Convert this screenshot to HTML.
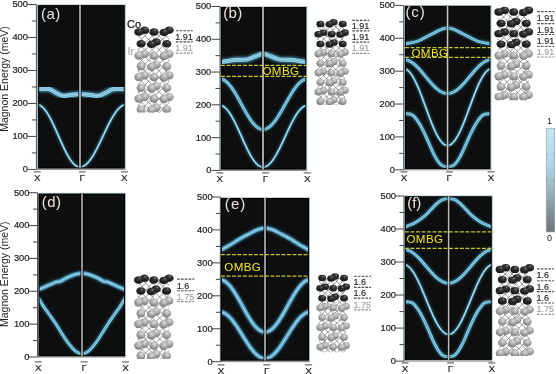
<!DOCTYPE html><html><head><meta charset="utf-8"><style>html,body{margin:0;padding:0;background:#fff;width:556px;height:374px;overflow:hidden}text{font-family:"Liberation Sans",sans-serif}</style></head><body><svg width="556" height="374" viewBox="0 0 556 374" style="display:block;will-change:transform">
<defs><filter id="gl" x="-20%" y="-20%" width="140%" height="140%"><feGaussianBlur stdDeviation="1.0"/></filter><filter id="gs" x="-20%" y="-20%" width="140%" height="140%"><feGaussianBlur stdDeviation="0.35"/></filter><filter id="bl" x="-20%" y="-20%" width="140%" height="140%"><feGaussianBlur stdDeviation="0.35"/></filter><radialGradient id="co" cx="0.6" cy="0.3" r="0.75" fx="0.62" fy="0.28"><stop offset="0" stop-color="#8c8c8c"/><stop offset="0.2" stop-color="#3a3a3a"/><stop offset="0.7" stop-color="#1e1e1e"/><stop offset="1" stop-color="#151515"/></radialGradient><radialGradient id="ir" cx="0.55" cy="0.32" r="0.75" fx="0.58" fy="0.3"><stop offset="0" stop-color="#dcdcdc"/><stop offset="0.45" stop-color="#ababab"/><stop offset="1" stop-color="#6e6e6e"/></radialGradient><linearGradient id="re" x1="0" y1="0" x2="1" y2="0"><stop offset="0" stop-color="#6f8a96"/><stop offset="1" stop-color="#e8f2f5" stop-opacity="0.3"/></linearGradient><linearGradient id="te" x1="0" y1="1" x2="0" y2="0"><stop offset="0" stop-color="#8aa6b2"/><stop offset="1" stop-color="#e8f2f5" stop-opacity="0.3"/></linearGradient><linearGradient id="cb" x1="0" y1="0" x2="0" y2="1"><stop offset="0" stop-color="#c4e4f0"/><stop offset="0.35" stop-color="#b2d6e4"/><stop offset="0.6" stop-color="#9ab4be"/><stop offset="1" stop-color="#6c7478"/></linearGradient>
<clipPath id="cla"><rect x="38.2" y="5.1" width="86.60" height="163.30"/></clipPath>
<clipPath id="clb"><rect x="221.0" y="7.0" width="85.30" height="162.50"/></clipPath>
<clipPath id="clc"><rect x="405.0" y="5.8" width="85.50" height="163.10"/></clipPath>
<clipPath id="cld"><rect x="38.6" y="193.5" width="86.40" height="162.80"/></clipPath>
<clipPath id="cle"><rect x="221.0" y="198.0" width="88.00" height="162.60"/></clipPath>
<clipPath id="clf"><rect x="405.0" y="196.2" width="86.80" height="163.60"/></clipPath>
</defs>
<rect width="556" height="374" fill="#fff"/>
<rect x="38.2" y="5.1" width="86.60" height="163.30" fill="#0e0e0e"/>
<rect x="37.10" y="5.1" width="1.2" height="163.30" fill="#8db2c2"/>
<rect x="37.10" y="168.10" width="87.70" height="1.0" fill="#7f9aa6"/>
<g clip-path="url(#cla)" fill="none" stroke-linejoin="round" stroke-linecap="round"><path d="M38.20,89.00 L38.83,89.00 L39.70,88.99 L40.73,88.98 L41.84,88.97 L42.95,88.98 L44.00,89.00 L44.99,89.01 L45.99,88.99 L46.99,88.99 L47.99,89.03 L49.00,89.16 L50.00,89.40 L50.99,89.80 L51.96,90.33 L52.94,90.94 L53.93,91.59 L54.94,92.22 L56.00,92.80 L57.11,93.37 L58.26,93.97 L59.44,94.56 L60.63,95.10 L61.82,95.52 L63.00,95.80 L64.13,95.89 L65.22,95.82 L66.31,95.65 L67.44,95.42 L68.66,95.19 L70.00,95.00 L71.61,94.83 L73.48,94.64 L75.44,94.45 L77.30,94.27 L78.88,94.11 L80.00,94.00 L80.00,94.00 L81.20,94.11 L82.90,94.27 L84.89,94.45 L86.99,94.64 L88.99,94.83 L90.72,95.00 L92.15,95.19 L93.46,95.42 L94.67,95.65 L95.84,95.82 L97.01,95.89 L98.22,95.80 L99.48,95.52 L100.76,95.10 L102.04,94.56 L103.30,93.97 L104.53,93.37 L105.72,92.80 L106.86,92.22 L107.95,91.59 L109.00,90.94 L110.05,90.33 L111.09,89.80 L112.15,89.40 L113.23,89.16 L114.30,89.03 L115.38,88.99 L116.46,88.99 L117.52,89.01 L118.58,89.00 L119.70,88.98 L120.90,88.97 L122.09,88.98 L123.20,88.99 L124.13,89.00 L124.80,89.00" stroke="#4aa0c4" stroke-width="7.0" opacity="0.6" filter="url(#gl)"/><path d="M38.20,89.00 L38.83,89.00 L39.70,88.99 L40.73,88.98 L41.84,88.97 L42.95,88.98 L44.00,89.00 L44.99,89.01 L45.99,88.99 L46.99,88.99 L47.99,89.03 L49.00,89.16 L50.00,89.40 L50.99,89.80 L51.96,90.33 L52.94,90.94 L53.93,91.59 L54.94,92.22 L56.00,92.80 L57.11,93.37 L58.26,93.97 L59.44,94.56 L60.63,95.10 L61.82,95.52 L63.00,95.80 L64.13,95.89 L65.22,95.82 L66.31,95.65 L67.44,95.42 L68.66,95.19 L70.00,95.00 L71.61,94.83 L73.48,94.64 L75.44,94.45 L77.30,94.27 L78.88,94.11 L80.00,94.00 L80.00,94.00 L81.20,94.11 L82.90,94.27 L84.89,94.45 L86.99,94.64 L88.99,94.83 L90.72,95.00 L92.15,95.19 L93.46,95.42 L94.67,95.65 L95.84,95.82 L97.01,95.89 L98.22,95.80 L99.48,95.52 L100.76,95.10 L102.04,94.56 L103.30,93.97 L104.53,93.37 L105.72,92.80 L106.86,92.22 L107.95,91.59 L109.00,90.94 L110.05,90.33 L111.09,89.80 L112.15,89.40 L113.23,89.16 L114.30,89.03 L115.38,88.99 L116.46,88.99 L117.52,89.01 L118.58,89.00 L119.70,88.98 L120.90,88.97 L122.09,88.98 L123.20,88.99 L124.13,89.00 L124.80,89.00" stroke="#8ad0ea" stroke-width="4.2" filter="url(#gs)"/><path d="M38.20,89.00 L38.83,89.00 L39.70,88.99 L40.73,88.98 L41.84,88.97 L42.95,88.98 L44.00,89.00 L44.99,89.01 L45.99,88.99 L46.99,88.99 L47.99,89.03 L49.00,89.16 L50.00,89.40 L50.99,89.80 L51.96,90.33 L52.94,90.94 L53.93,91.59 L54.94,92.22 L56.00,92.80 L57.11,93.37 L58.26,93.97 L59.44,94.56 L60.63,95.10 L61.82,95.52 L63.00,95.80 L64.13,95.89 L65.22,95.82 L66.31,95.65 L67.44,95.42 L68.66,95.19 L70.00,95.00 L71.61,94.83 L73.48,94.64 L75.44,94.45 L77.30,94.27 L78.88,94.11 L80.00,94.00 L80.00,94.00 L81.20,94.11 L82.90,94.27 L84.89,94.45 L86.99,94.64 L88.99,94.83 L90.72,95.00 L92.15,95.19 L93.46,95.42 L94.67,95.65 L95.84,95.82 L97.01,95.89 L98.22,95.80 L99.48,95.52 L100.76,95.10 L102.04,94.56 L103.30,93.97 L104.53,93.37 L105.72,92.80 L106.86,92.22 L107.95,91.59 L109.00,90.94 L110.05,90.33 L111.09,89.80 L112.15,89.40 L113.23,89.16 L114.30,89.03 L115.38,88.99 L116.46,88.99 L117.52,89.01 L118.58,89.00 L119.70,88.98 L120.90,88.97 L122.09,88.98 L123.20,88.99 L124.13,89.00 L124.80,89.00" stroke="#4a98bb" stroke-width="2.0" stroke-dasharray="1.3 1.1" opacity="0.8"/><path d="M38.20,89.00 L38.83,89.00 L39.70,88.99 L40.73,88.98 L41.84,88.97 L42.95,88.98 L44.00,89.00 L44.99,89.01 L45.99,88.99 L46.99,88.99 L47.99,89.03 L49.00,89.16 L50.00,89.40 L50.99,89.80 L51.96,90.33 L52.94,90.94 L53.93,91.59 L54.94,92.22 L56.00,92.80 L57.11,93.37 L58.26,93.97 L59.44,94.56 L60.63,95.10 L61.82,95.52 L63.00,95.80 L64.13,95.89 L65.22,95.82 L66.31,95.65 L67.44,95.42 L68.66,95.19 L70.00,95.00 L71.61,94.83 L73.48,94.64 L75.44,94.45 L77.30,94.27 L78.88,94.11 L80.00,94.00 L80.00,94.00 L81.20,94.11 L82.90,94.27 L84.89,94.45 L86.99,94.64 L88.99,94.83 L90.72,95.00 L92.15,95.19 L93.46,95.42 L94.67,95.65 L95.84,95.82 L97.01,95.89 L98.22,95.80 L99.48,95.52 L100.76,95.10 L102.04,94.56 L103.30,93.97 L104.53,93.37 L105.72,92.80 L106.86,92.22 L107.95,91.59 L109.00,90.94 L110.05,90.33 L111.09,89.80 L112.15,89.40 L113.23,89.16 L114.30,89.03 L115.38,88.99 L116.46,88.99 L117.52,89.01 L118.58,89.00 L119.70,88.98 L120.90,88.97 L122.09,88.98 L123.20,88.99 L124.13,89.00 L124.80,89.00" stroke="#e4f7fc" stroke-width="0.8" opacity="0.9"/></g>
<g clip-path="url(#cla)" fill="none" stroke-linejoin="round" stroke-linecap="round"><path d="M38.20,104.76 L39.25,105.07 L40.29,105.57 L41.34,106.23 L42.38,107.07 L43.43,108.08 L44.47,109.25 L45.52,110.57 L46.56,112.04 L47.61,113.65 L48.65,115.38 L49.70,117.24 L50.74,119.20 L51.79,121.26 L52.83,123.41 L53.88,125.62 L54.92,127.90 L55.97,130.22 L57.01,132.57 L58.05,134.95 L59.10,137.33 L60.15,139.70 L61.19,142.05 L62.23,144.36 L63.28,146.62 L64.33,148.82 L65.37,150.95 L66.42,152.98 L67.46,154.92 L68.50,156.75 L69.55,158.46 L70.59,160.03 L71.64,161.47 L72.69,162.75 L73.73,163.88 L74.78,164.85 L75.82,165.65 L76.87,166.28 L77.91,166.73 L78.95,167.00 L80.00,167.09 L80.00,167.09 L81.12,167.00 L82.24,166.73 L83.36,166.28 L84.48,165.65 L85.60,164.85 L86.72,163.88 L87.84,162.75 L88.96,161.47 L90.08,160.03 L91.20,158.46 L92.32,156.75 L93.44,154.92 L94.56,152.98 L95.68,150.95 L96.80,148.82 L97.92,146.62 L99.04,144.36 L100.16,142.05 L101.28,139.70 L102.40,137.33 L103.52,134.95 L104.64,132.57 L105.76,130.22 L106.88,127.90 L108.00,125.62 L109.12,123.41 L110.24,121.26 L111.36,119.20 L112.48,117.24 L113.60,115.38 L114.72,113.65 L115.84,112.04 L116.96,110.57 L118.08,109.25 L119.20,108.08 L120.32,107.07 L121.44,106.23 L122.56,105.57 L123.68,105.07 L124.80,104.76" stroke="#3a8db0" stroke-width="3.4" opacity="0.6" filter="url(#gl)"/><path d="M38.20,104.76 L39.25,105.07 L40.29,105.57 L41.34,106.23 L42.38,107.07 L43.43,108.08 L44.47,109.25 L45.52,110.57 L46.56,112.04 L47.61,113.65 L48.65,115.38 L49.70,117.24 L50.74,119.20 L51.79,121.26 L52.83,123.41 L53.88,125.62 L54.92,127.90 L55.97,130.22 L57.01,132.57 L58.05,134.95 L59.10,137.33 L60.15,139.70 L61.19,142.05 L62.23,144.36 L63.28,146.62 L64.33,148.82 L65.37,150.95 L66.42,152.98 L67.46,154.92 L68.50,156.75 L69.55,158.46 L70.59,160.03 L71.64,161.47 L72.69,162.75 L73.73,163.88 L74.78,164.85 L75.82,165.65 L76.87,166.28 L77.91,166.73 L78.95,167.00 L80.00,167.09 L80.00,167.09 L81.12,167.00 L82.24,166.73 L83.36,166.28 L84.48,165.65 L85.60,164.85 L86.72,163.88 L87.84,162.75 L88.96,161.47 L90.08,160.03 L91.20,158.46 L92.32,156.75 L93.44,154.92 L94.56,152.98 L95.68,150.95 L96.80,148.82 L97.92,146.62 L99.04,144.36 L100.16,142.05 L101.28,139.70 L102.40,137.33 L103.52,134.95 L104.64,132.57 L105.76,130.22 L106.88,127.90 L108.00,125.62 L109.12,123.41 L110.24,121.26 L111.36,119.20 L112.48,117.24 L113.60,115.38 L114.72,113.65 L115.84,112.04 L116.96,110.57 L118.08,109.25 L119.20,108.08 L120.32,107.07 L121.44,106.23 L122.56,105.57 L123.68,105.07 L124.80,104.76" stroke="#8ed2ea" stroke-width="1.7" filter="url(#gs)"/><path d="M38.20,104.76 L39.25,105.07 L40.29,105.57 L41.34,106.23 L42.38,107.07 L43.43,108.08 L44.47,109.25 L45.52,110.57 L46.56,112.04 L47.61,113.65 L48.65,115.38 L49.70,117.24 L50.74,119.20 L51.79,121.26 L52.83,123.41 L53.88,125.62 L54.92,127.90 L55.97,130.22 L57.01,132.57 L58.05,134.95 L59.10,137.33 L60.15,139.70 L61.19,142.05 L62.23,144.36 L63.28,146.62 L64.33,148.82 L65.37,150.95 L66.42,152.98 L67.46,154.92 L68.50,156.75 L69.55,158.46 L70.59,160.03 L71.64,161.47 L72.69,162.75 L73.73,163.88 L74.78,164.85 L75.82,165.65 L76.87,166.28 L77.91,166.73 L78.95,167.00 L80.00,167.09 L80.00,167.09 L81.12,167.00 L82.24,166.73 L83.36,166.28 L84.48,165.65 L85.60,164.85 L86.72,163.88 L87.84,162.75 L88.96,161.47 L90.08,160.03 L91.20,158.46 L92.32,156.75 L93.44,154.92 L94.56,152.98 L95.68,150.95 L96.80,148.82 L97.92,146.62 L99.04,144.36 L100.16,142.05 L101.28,139.70 L102.40,137.33 L103.52,134.95 L104.64,132.57 L105.76,130.22 L106.88,127.90 L108.00,125.62 L109.12,123.41 L110.24,121.26 L111.36,119.20 L112.48,117.24 L113.60,115.38 L114.72,113.65 L115.84,112.04 L116.96,110.57 L118.08,109.25 L119.20,108.08 L120.32,107.07 L121.44,106.23 L122.56,105.57 L123.68,105.07 L124.80,104.76" stroke="#c8eef9" stroke-width="0.6" opacity="0.7"/></g>
<rect x="38.70" y="5.60" width="85.60" height="162.30" fill="none" stroke="#000" stroke-width="1"/>
<rect x="124.80" y="5.10" width="1.6" height="163.30" fill="url(#re)"/>
<rect x="37.20" y="3.80" width="88.80" height="1.3" fill="url(#te)"/>
<rect x="78.10" y="5.1" width="3.80" height="163.30" fill="#000" opacity="0.55"/>
<rect x="79.00" y="5.1" width="2.00" height="163.30" fill="#9c9a98"/>
<text x="40.9" y="18.8" font-family='"Liberation Sans", sans-serif' font-size="15" letter-spacing="0.5" fill="#ece4e0">(a)</text>
<line x1="36.4" y1="4.5" x2="36.4" y2="169.4" stroke="#555" stroke-width="1"/>
<line x1="36.4" y1="169.4" x2="125.80" y2="169.4" stroke="#888" stroke-width="1"/>
<line x1="27.90" y1="169.40" x2="36.4" y2="169.40" stroke="#444" stroke-width="1"/>
<text x="27.9" y="172.30" text-anchor="end" font-family='"Liberation Sans", sans-serif' font-size="9.3" fill="#1a1a1a" stroke="#1a1a1a" stroke-width="0.2">0</text>
<line x1="31.90" y1="152.91" x2="36.4" y2="152.91" stroke="#444" stroke-width="1"/>
<line x1="27.90" y1="136.42" x2="36.4" y2="136.42" stroke="#444" stroke-width="1"/>
<text x="27.9" y="139.32" text-anchor="end" font-family='"Liberation Sans", sans-serif' font-size="9.3" fill="#1a1a1a" stroke="#1a1a1a" stroke-width="0.2">100</text>
<line x1="31.90" y1="119.93" x2="36.4" y2="119.93" stroke="#444" stroke-width="1"/>
<line x1="27.90" y1="103.44" x2="36.4" y2="103.44" stroke="#444" stroke-width="1"/>
<text x="27.9" y="106.34" text-anchor="end" font-family='"Liberation Sans", sans-serif' font-size="9.3" fill="#1a1a1a" stroke="#1a1a1a" stroke-width="0.2">200</text>
<line x1="31.90" y1="86.95" x2="36.4" y2="86.95" stroke="#444" stroke-width="1"/>
<line x1="27.90" y1="70.46" x2="36.4" y2="70.46" stroke="#444" stroke-width="1"/>
<text x="27.9" y="73.36" text-anchor="end" font-family='"Liberation Sans", sans-serif' font-size="9.3" fill="#1a1a1a" stroke="#1a1a1a" stroke-width="0.2">300</text>
<line x1="31.90" y1="53.97" x2="36.4" y2="53.97" stroke="#444" stroke-width="1"/>
<line x1="27.90" y1="37.48" x2="36.4" y2="37.48" stroke="#444" stroke-width="1"/>
<text x="27.9" y="40.38" text-anchor="end" font-family='"Liberation Sans", sans-serif' font-size="9.3" fill="#1a1a1a" stroke="#1a1a1a" stroke-width="0.2">400</text>
<line x1="31.90" y1="20.99" x2="36.4" y2="20.99" stroke="#444" stroke-width="1"/>
<line x1="27.90" y1="4.50" x2="36.4" y2="4.50" stroke="#444" stroke-width="1"/>
<text x="27.9" y="7.40" text-anchor="end" font-family='"Liberation Sans", sans-serif' font-size="9.3" fill="#1a1a1a" stroke="#1a1a1a" stroke-width="0.2">500</text>
<text x="37.30" y="181.00" text-anchor="middle" font-family='"Liberation Sans", sans-serif' font-size="9.9" fill="#1a1a1a" stroke="#1a1a1a" stroke-width="0.15">X</text>
<line x1="33.80" y1="171.90" x2="40.80" y2="171.90" stroke="#333" stroke-width="0.9"/>
<text x="82.30" y="181.00" text-anchor="middle" font-family='"Liberation Sans", sans-serif' font-size="9.9" fill="#1a1a1a" stroke="#1a1a1a" stroke-width="0.15">Γ</text>
<line x1="78.80" y1="171.90" x2="85.80" y2="171.90" stroke="#333" stroke-width="0.9"/>
<text x="124.40" y="181.00" text-anchor="middle" font-family='"Liberation Sans", sans-serif' font-size="9.9" fill="#1a1a1a" stroke="#1a1a1a" stroke-width="0.15">X</text>
<line x1="120.90" y1="171.90" x2="127.90" y2="171.90" stroke="#333" stroke-width="0.9"/>
<rect x="221.0" y="7.0" width="85.30" height="162.50" fill="#0e0e0e"/>
<rect x="219.90" y="7.0" width="1.2" height="162.50" fill="#8db2c2"/>
<rect x="219.90" y="169.20" width="86.40" height="1.0" fill="#7f9aa6"/>
<g clip-path="url(#clb)" fill="none" stroke-linejoin="round" stroke-linecap="round"><path d="M221.00,62.00 L221.77,61.89 L222.84,61.74 L224.11,61.56 L225.46,61.37 L226.78,61.18 L227.97,61.00 L228.94,60.83 L229.77,60.65 L230.58,60.48 L231.47,60.30 L232.55,60.14 L233.94,60.00 L235.75,59.90 L237.92,59.86 L240.28,59.82 L242.67,59.76 L244.93,59.63 L246.88,59.40 L248.49,59.05 L249.89,58.61 L251.16,58.11 L252.35,57.57 L253.56,57.02 L254.84,56.50 L256.28,55.96 L257.85,55.37 L259.42,54.77 L260.88,54.21 L262.11,53.74 L263.00,53.40 L263.00,53.40 L263.92,53.74 L265.19,54.21 L266.69,54.77 L268.31,55.37 L269.93,55.96 L271.41,56.50 L272.73,57.02 L273.98,57.57 L275.21,58.11 L276.51,58.61 L277.96,59.05 L279.62,59.40 L281.63,59.63 L283.95,59.76 L286.42,59.82 L288.86,59.86 L291.09,59.90 L292.96,60.00 L294.39,60.14 L295.51,60.30 L296.42,60.48 L297.26,60.65 L298.12,60.83 L299.12,61.00 L300.34,61.18 L301.70,61.37 L303.09,61.56 L304.40,61.74 L305.51,61.89 L306.30,62.00" stroke="#4aa0c4" stroke-width="7.0" opacity="0.6" filter="url(#gl)"/><path d="M221.00,62.00 L221.77,61.89 L222.84,61.74 L224.11,61.56 L225.46,61.37 L226.78,61.18 L227.97,61.00 L228.94,60.83 L229.77,60.65 L230.58,60.48 L231.47,60.30 L232.55,60.14 L233.94,60.00 L235.75,59.90 L237.92,59.86 L240.28,59.82 L242.67,59.76 L244.93,59.63 L246.88,59.40 L248.49,59.05 L249.89,58.61 L251.16,58.11 L252.35,57.57 L253.56,57.02 L254.84,56.50 L256.28,55.96 L257.85,55.37 L259.42,54.77 L260.88,54.21 L262.11,53.74 L263.00,53.40 L263.00,53.40 L263.92,53.74 L265.19,54.21 L266.69,54.77 L268.31,55.37 L269.93,55.96 L271.41,56.50 L272.73,57.02 L273.98,57.57 L275.21,58.11 L276.51,58.61 L277.96,59.05 L279.62,59.40 L281.63,59.63 L283.95,59.76 L286.42,59.82 L288.86,59.86 L291.09,59.90 L292.96,60.00 L294.39,60.14 L295.51,60.30 L296.42,60.48 L297.26,60.65 L298.12,60.83 L299.12,61.00 L300.34,61.18 L301.70,61.37 L303.09,61.56 L304.40,61.74 L305.51,61.89 L306.30,62.00" stroke="#8ad0ea" stroke-width="4.2" filter="url(#gs)"/><path d="M221.00,62.00 L221.77,61.89 L222.84,61.74 L224.11,61.56 L225.46,61.37 L226.78,61.18 L227.97,61.00 L228.94,60.83 L229.77,60.65 L230.58,60.48 L231.47,60.30 L232.55,60.14 L233.94,60.00 L235.75,59.90 L237.92,59.86 L240.28,59.82 L242.67,59.76 L244.93,59.63 L246.88,59.40 L248.49,59.05 L249.89,58.61 L251.16,58.11 L252.35,57.57 L253.56,57.02 L254.84,56.50 L256.28,55.96 L257.85,55.37 L259.42,54.77 L260.88,54.21 L262.11,53.74 L263.00,53.40 L263.00,53.40 L263.92,53.74 L265.19,54.21 L266.69,54.77 L268.31,55.37 L269.93,55.96 L271.41,56.50 L272.73,57.02 L273.98,57.57 L275.21,58.11 L276.51,58.61 L277.96,59.05 L279.62,59.40 L281.63,59.63 L283.95,59.76 L286.42,59.82 L288.86,59.86 L291.09,59.90 L292.96,60.00 L294.39,60.14 L295.51,60.30 L296.42,60.48 L297.26,60.65 L298.12,60.83 L299.12,61.00 L300.34,61.18 L301.70,61.37 L303.09,61.56 L304.40,61.74 L305.51,61.89 L306.30,62.00" stroke="#4a98bb" stroke-width="2.0" stroke-dasharray="1.3 1.1" opacity="0.8"/><path d="M221.00,62.00 L221.77,61.89 L222.84,61.74 L224.11,61.56 L225.46,61.37 L226.78,61.18 L227.97,61.00 L228.94,60.83 L229.77,60.65 L230.58,60.48 L231.47,60.30 L232.55,60.14 L233.94,60.00 L235.75,59.90 L237.92,59.86 L240.28,59.82 L242.67,59.76 L244.93,59.63 L246.88,59.40 L248.49,59.05 L249.89,58.61 L251.16,58.11 L252.35,57.57 L253.56,57.02 L254.84,56.50 L256.28,55.96 L257.85,55.37 L259.42,54.77 L260.88,54.21 L262.11,53.74 L263.00,53.40 L263.00,53.40 L263.92,53.74 L265.19,54.21 L266.69,54.77 L268.31,55.37 L269.93,55.96 L271.41,56.50 L272.73,57.02 L273.98,57.57 L275.21,58.11 L276.51,58.61 L277.96,59.05 L279.62,59.40 L281.63,59.63 L283.95,59.76 L286.42,59.82 L288.86,59.86 L291.09,59.90 L292.96,60.00 L294.39,60.14 L295.51,60.30 L296.42,60.48 L297.26,60.65 L298.12,60.83 L299.12,61.00 L300.34,61.18 L301.70,61.37 L303.09,61.56 L304.40,61.74 L305.51,61.89 L306.30,62.00" stroke="#e4f7fc" stroke-width="0.8" opacity="0.9"/></g>
<g clip-path="url(#clb)" fill="none" stroke-linejoin="round" stroke-linecap="round"><path d="M221.00,78.94 L222.05,79.20 L223.10,79.60 L224.15,80.14 L225.20,80.82 L226.25,81.63 L227.30,82.58 L228.35,83.65 L229.40,84.84 L230.45,86.14 L231.50,87.55 L232.55,89.05 L233.60,90.64 L234.65,92.31 L235.70,94.05 L236.75,95.84 L237.80,97.68 L238.85,99.56 L239.90,101.47 L240.95,103.39 L242.00,105.32 L243.05,107.24 L244.10,109.14 L245.15,111.01 L246.20,112.85 L247.25,114.63 L248.30,116.35 L249.35,118.00 L250.40,119.57 L251.45,121.05 L252.50,122.43 L253.55,123.71 L254.60,124.87 L255.65,125.91 L256.70,126.83 L257.75,127.61 L258.80,128.26 L259.85,128.77 L260.90,129.13 L261.95,129.35 L263.00,129.43 L263.00,129.43 L264.08,129.35 L265.17,129.13 L266.25,128.77 L267.33,128.26 L268.41,127.61 L269.50,126.83 L270.58,125.91 L271.66,124.87 L272.74,123.71 L273.82,122.43 L274.91,121.05 L275.99,119.57 L277.07,118.00 L278.16,116.35 L279.24,114.63 L280.32,112.85 L281.40,111.01 L282.49,109.14 L283.57,107.24 L284.65,105.32 L285.73,103.39 L286.81,101.47 L287.90,99.56 L288.98,97.68 L290.06,95.84 L291.14,94.05 L292.23,92.31 L293.31,90.64 L294.39,89.05 L295.48,87.55 L296.56,86.14 L297.64,84.84 L298.72,83.65 L299.81,82.58 L300.89,81.63 L301.97,80.82 L303.05,80.14 L304.13,79.60 L305.22,79.20 L306.30,78.94" stroke="#3a8db0" stroke-width="4.6" opacity="0.6" filter="url(#gl)"/><path d="M221.00,78.94 L222.05,79.20 L223.10,79.60 L224.15,80.14 L225.20,80.82 L226.25,81.63 L227.30,82.58 L228.35,83.65 L229.40,84.84 L230.45,86.14 L231.50,87.55 L232.55,89.05 L233.60,90.64 L234.65,92.31 L235.70,94.05 L236.75,95.84 L237.80,97.68 L238.85,99.56 L239.90,101.47 L240.95,103.39 L242.00,105.32 L243.05,107.24 L244.10,109.14 L245.15,111.01 L246.20,112.85 L247.25,114.63 L248.30,116.35 L249.35,118.00 L250.40,119.57 L251.45,121.05 L252.50,122.43 L253.55,123.71 L254.60,124.87 L255.65,125.91 L256.70,126.83 L257.75,127.61 L258.80,128.26 L259.85,128.77 L260.90,129.13 L261.95,129.35 L263.00,129.43 L263.00,129.43 L264.08,129.35 L265.17,129.13 L266.25,128.77 L267.33,128.26 L268.41,127.61 L269.50,126.83 L270.58,125.91 L271.66,124.87 L272.74,123.71 L273.82,122.43 L274.91,121.05 L275.99,119.57 L277.07,118.00 L278.16,116.35 L279.24,114.63 L280.32,112.85 L281.40,111.01 L282.49,109.14 L283.57,107.24 L284.65,105.32 L285.73,103.39 L286.81,101.47 L287.90,99.56 L288.98,97.68 L290.06,95.84 L291.14,94.05 L292.23,92.31 L293.31,90.64 L294.39,89.05 L295.48,87.55 L296.56,86.14 L297.64,84.84 L298.72,83.65 L299.81,82.58 L300.89,81.63 L301.97,80.82 L303.05,80.14 L304.13,79.60 L305.22,79.20 L306.30,78.94" stroke="#86cfe9" stroke-width="2.9" filter="url(#gs)"/><path d="M221.00,78.94 L222.05,79.20 L223.10,79.60 L224.15,80.14 L225.20,80.82 L226.25,81.63 L227.30,82.58 L228.35,83.65 L229.40,84.84 L230.45,86.14 L231.50,87.55 L232.55,89.05 L233.60,90.64 L234.65,92.31 L235.70,94.05 L236.75,95.84 L237.80,97.68 L238.85,99.56 L239.90,101.47 L240.95,103.39 L242.00,105.32 L243.05,107.24 L244.10,109.14 L245.15,111.01 L246.20,112.85 L247.25,114.63 L248.30,116.35 L249.35,118.00 L250.40,119.57 L251.45,121.05 L252.50,122.43 L253.55,123.71 L254.60,124.87 L255.65,125.91 L256.70,126.83 L257.75,127.61 L258.80,128.26 L259.85,128.77 L260.90,129.13 L261.95,129.35 L263.00,129.43 L263.00,129.43 L264.08,129.35 L265.17,129.13 L266.25,128.77 L267.33,128.26 L268.41,127.61 L269.50,126.83 L270.58,125.91 L271.66,124.87 L272.74,123.71 L273.82,122.43 L274.91,121.05 L275.99,119.57 L277.07,118.00 L278.16,116.35 L279.24,114.63 L280.32,112.85 L281.40,111.01 L282.49,109.14 L283.57,107.24 L284.65,105.32 L285.73,103.39 L286.81,101.47 L287.90,99.56 L288.98,97.68 L290.06,95.84 L291.14,94.05 L292.23,92.31 L293.31,90.64 L294.39,89.05 L295.48,87.55 L296.56,86.14 L297.64,84.84 L298.72,83.65 L299.81,82.58 L300.89,81.63 L301.97,80.82 L303.05,80.14 L304.13,79.60 L305.22,79.20 L306.30,78.94" stroke="#3a8aa8" stroke-width="0.9" stroke-dasharray="1.2 1.2" opacity="0.85"/></g>
<g clip-path="url(#clb)" fill="none" stroke-linejoin="round" stroke-linecap="round"><path d="M221.00,105.50 L222.05,105.81 L223.10,106.29 L224.15,106.95 L225.20,107.78 L226.25,108.78 L227.30,109.93 L228.35,111.24 L229.40,112.69 L230.45,114.28 L231.50,116.00 L232.55,117.83 L233.60,119.78 L234.65,121.81 L235.70,123.93 L236.75,126.12 L237.80,128.37 L238.85,130.67 L239.90,133.00 L240.95,135.34 L242.00,137.70 L243.05,140.04 L244.10,142.36 L245.15,144.65 L246.20,146.88 L247.25,149.06 L248.30,151.16 L249.35,153.17 L250.40,155.09 L251.45,156.90 L252.50,158.59 L253.55,160.14 L254.60,161.56 L255.65,162.83 L256.70,163.95 L257.75,164.91 L258.80,165.70 L259.85,166.32 L260.90,166.76 L261.95,167.03 L263.00,167.12 L263.00,167.12 L264.08,167.03 L265.17,166.76 L266.25,166.32 L267.33,165.70 L268.41,164.91 L269.50,163.95 L270.58,162.83 L271.66,161.56 L272.74,160.14 L273.82,158.59 L274.91,156.90 L275.99,155.09 L277.07,153.17 L278.16,151.16 L279.24,149.06 L280.32,146.88 L281.40,144.65 L282.49,142.36 L283.57,140.04 L284.65,137.70 L285.73,135.34 L286.81,133.00 L287.90,130.67 L288.98,128.37 L290.06,126.12 L291.14,123.93 L292.23,121.81 L293.31,119.78 L294.39,117.83 L295.48,116.00 L296.56,114.28 L297.64,112.69 L298.72,111.24 L299.81,109.93 L300.89,108.78 L301.97,107.78 L303.05,106.95 L304.13,106.29 L305.22,105.81 L306.30,105.50" stroke="#3a8db0" stroke-width="3.4" opacity="0.6" filter="url(#gl)"/><path d="M221.00,105.50 L222.05,105.81 L223.10,106.29 L224.15,106.95 L225.20,107.78 L226.25,108.78 L227.30,109.93 L228.35,111.24 L229.40,112.69 L230.45,114.28 L231.50,116.00 L232.55,117.83 L233.60,119.78 L234.65,121.81 L235.70,123.93 L236.75,126.12 L237.80,128.37 L238.85,130.67 L239.90,133.00 L240.95,135.34 L242.00,137.70 L243.05,140.04 L244.10,142.36 L245.15,144.65 L246.20,146.88 L247.25,149.06 L248.30,151.16 L249.35,153.17 L250.40,155.09 L251.45,156.90 L252.50,158.59 L253.55,160.14 L254.60,161.56 L255.65,162.83 L256.70,163.95 L257.75,164.91 L258.80,165.70 L259.85,166.32 L260.90,166.76 L261.95,167.03 L263.00,167.12 L263.00,167.12 L264.08,167.03 L265.17,166.76 L266.25,166.32 L267.33,165.70 L268.41,164.91 L269.50,163.95 L270.58,162.83 L271.66,161.56 L272.74,160.14 L273.82,158.59 L274.91,156.90 L275.99,155.09 L277.07,153.17 L278.16,151.16 L279.24,149.06 L280.32,146.88 L281.40,144.65 L282.49,142.36 L283.57,140.04 L284.65,137.70 L285.73,135.34 L286.81,133.00 L287.90,130.67 L288.98,128.37 L290.06,126.12 L291.14,123.93 L292.23,121.81 L293.31,119.78 L294.39,117.83 L295.48,116.00 L296.56,114.28 L297.64,112.69 L298.72,111.24 L299.81,109.93 L300.89,108.78 L301.97,107.78 L303.05,106.95 L304.13,106.29 L305.22,105.81 L306.30,105.50" stroke="#8ed2ea" stroke-width="1.7" filter="url(#gs)"/><path d="M221.00,105.50 L222.05,105.81 L223.10,106.29 L224.15,106.95 L225.20,107.78 L226.25,108.78 L227.30,109.93 L228.35,111.24 L229.40,112.69 L230.45,114.28 L231.50,116.00 L232.55,117.83 L233.60,119.78 L234.65,121.81 L235.70,123.93 L236.75,126.12 L237.80,128.37 L238.85,130.67 L239.90,133.00 L240.95,135.34 L242.00,137.70 L243.05,140.04 L244.10,142.36 L245.15,144.65 L246.20,146.88 L247.25,149.06 L248.30,151.16 L249.35,153.17 L250.40,155.09 L251.45,156.90 L252.50,158.59 L253.55,160.14 L254.60,161.56 L255.65,162.83 L256.70,163.95 L257.75,164.91 L258.80,165.70 L259.85,166.32 L260.90,166.76 L261.95,167.03 L263.00,167.12 L263.00,167.12 L264.08,167.03 L265.17,166.76 L266.25,166.32 L267.33,165.70 L268.41,164.91 L269.50,163.95 L270.58,162.83 L271.66,161.56 L272.74,160.14 L273.82,158.59 L274.91,156.90 L275.99,155.09 L277.07,153.17 L278.16,151.16 L279.24,149.06 L280.32,146.88 L281.40,144.65 L282.49,142.36 L283.57,140.04 L284.65,137.70 L285.73,135.34 L286.81,133.00 L287.90,130.67 L288.98,128.37 L290.06,126.12 L291.14,123.93 L292.23,121.81 L293.31,119.78 L294.39,117.83 L295.48,116.00 L296.56,114.28 L297.64,112.69 L298.72,111.24 L299.81,109.93 L300.89,108.78 L301.97,107.78 L303.05,106.95 L304.13,106.29 L305.22,105.81 L306.30,105.50" stroke="#c8eef9" stroke-width="0.6" opacity="0.7"/></g>
<rect x="221.50" y="7.50" width="84.30" height="161.50" fill="none" stroke="#000" stroke-width="1"/>
<rect x="306.30" y="7.00" width="1.6" height="162.50" fill="url(#re)"/>
<rect x="220.00" y="5.70" width="87.50" height="1.3" fill="url(#te)"/>
<rect x="261.10" y="7.0" width="3.80" height="162.50" fill="#000" opacity="0.55"/>
<rect x="262.00" y="7.0" width="2.00" height="162.50" fill="#a8a4a2"/>
<line x1="221.0" y1="65.4" x2="306.5" y2="65.4" stroke="#c6c62c" stroke-width="1.25" stroke-dasharray="3.9 1.6"/>
<line x1="221.0" y1="76.4" x2="306.5" y2="76.4" stroke="#c6c62c" stroke-width="1.25" stroke-dasharray="3.9 1.6"/>
<text x="262.5" y="75.0" font-family='"Liberation Sans", sans-serif' font-size="11.6" letter-spacing="0.35" fill="#f2ea1a">OMBG</text>
<text x="223.3" y="17.8" font-family='"Liberation Sans", sans-serif' font-size="15" letter-spacing="0.25" fill="#ece4e0">(b)</text>
<line x1="220.0" y1="6.5" x2="220.0" y2="170.4" stroke="#555" stroke-width="1"/>
<line x1="220.0" y1="170.4" x2="307.30" y2="170.4" stroke="#888" stroke-width="1"/>
<line x1="211.50" y1="170.40" x2="220.0" y2="170.40" stroke="#444" stroke-width="1"/>
<text x="211.3" y="173.30" text-anchor="end" font-family='"Liberation Sans", sans-serif' font-size="9.3" fill="#1a1a1a" stroke="#1a1a1a" stroke-width="0.2">0</text>
<line x1="215.50" y1="154.01" x2="220.0" y2="154.01" stroke="#444" stroke-width="1"/>
<line x1="211.50" y1="137.62" x2="220.0" y2="137.62" stroke="#444" stroke-width="1"/>
<text x="211.3" y="140.52" text-anchor="end" font-family='"Liberation Sans", sans-serif' font-size="9.3" fill="#1a1a1a" stroke="#1a1a1a" stroke-width="0.2">100</text>
<line x1="215.50" y1="121.23" x2="220.0" y2="121.23" stroke="#444" stroke-width="1"/>
<line x1="211.50" y1="104.84" x2="220.0" y2="104.84" stroke="#444" stroke-width="1"/>
<text x="211.3" y="107.74" text-anchor="end" font-family='"Liberation Sans", sans-serif' font-size="9.3" fill="#1a1a1a" stroke="#1a1a1a" stroke-width="0.2">200</text>
<line x1="215.50" y1="88.45" x2="220.0" y2="88.45" stroke="#444" stroke-width="1"/>
<line x1="211.50" y1="72.06" x2="220.0" y2="72.06" stroke="#444" stroke-width="1"/>
<text x="211.3" y="74.96" text-anchor="end" font-family='"Liberation Sans", sans-serif' font-size="9.3" fill="#1a1a1a" stroke="#1a1a1a" stroke-width="0.2">300</text>
<line x1="215.50" y1="55.67" x2="220.0" y2="55.67" stroke="#444" stroke-width="1"/>
<line x1="211.50" y1="39.28" x2="220.0" y2="39.28" stroke="#444" stroke-width="1"/>
<text x="211.3" y="42.18" text-anchor="end" font-family='"Liberation Sans", sans-serif' font-size="9.3" fill="#1a1a1a" stroke="#1a1a1a" stroke-width="0.2">400</text>
<line x1="215.50" y1="22.89" x2="220.0" y2="22.89" stroke="#444" stroke-width="1"/>
<line x1="211.50" y1="6.50" x2="220.0" y2="6.50" stroke="#444" stroke-width="1"/>
<text x="211.3" y="9.40" text-anchor="end" font-family='"Liberation Sans", sans-serif' font-size="9.3" fill="#1a1a1a" stroke="#1a1a1a" stroke-width="0.2">500</text>
<text x="219.90" y="182.00" text-anchor="middle" font-family='"Liberation Sans", sans-serif' font-size="9.9" fill="#1a1a1a" stroke="#1a1a1a" stroke-width="0.15">X</text>
<line x1="216.40" y1="172.90" x2="223.40" y2="172.90" stroke="#333" stroke-width="0.9"/>
<text x="265.60" y="182.00" text-anchor="middle" font-family='"Liberation Sans", sans-serif' font-size="9.9" fill="#1a1a1a" stroke="#1a1a1a" stroke-width="0.15">Γ</text>
<line x1="262.10" y1="172.90" x2="269.10" y2="172.90" stroke="#333" stroke-width="0.9"/>
<text x="307.20" y="182.00" text-anchor="middle" font-family='"Liberation Sans", sans-serif' font-size="9.9" fill="#1a1a1a" stroke="#1a1a1a" stroke-width="0.15">X</text>
<line x1="303.70" y1="172.90" x2="310.70" y2="172.90" stroke="#333" stroke-width="0.9"/>
<rect x="405.0" y="5.8" width="85.50" height="163.10" fill="#0e0e0e"/>
<rect x="403.90" y="5.8" width="1.2" height="163.10" fill="#8db2c2"/>
<rect x="403.90" y="168.60" width="86.60" height="1.0" fill="#7f9aa6"/>
<g clip-path="url(#clc)" fill="none" stroke-linejoin="round" stroke-linecap="round"><path d="M405.00,43.80 L405.77,43.67 L406.85,43.50 L408.12,43.30 L409.48,43.07 L410.81,42.84 L412.00,42.60 L413.05,42.38 L414.04,42.16 L415.00,41.94 L415.96,41.68 L416.95,41.38 L418.00,41.00 L419.11,40.54 L420.26,40.01 L421.44,39.43 L422.63,38.81 L423.82,38.20 L425.00,37.60 L426.18,37.01 L427.37,36.40 L428.56,35.78 L429.74,35.17 L430.89,34.57 L432.00,34.00 L433.07,33.44 L434.11,32.89 L435.12,32.36 L436.11,31.84 L437.07,31.35 L438.00,30.90 L438.90,30.48 L439.76,30.08 L440.59,29.71 L441.40,29.37 L442.20,29.06 L443.00,28.80 L443.84,28.58 L444.72,28.41 L445.59,28.27 L446.39,28.16 L447.06,28.07 L447.55,28.00 L447.55,28.00 L448.04,28.07 L448.72,28.16 L449.53,28.27 L450.41,28.41 L451.30,28.58 L452.14,28.80 L452.95,29.06 L453.75,29.37 L454.57,29.71 L455.42,30.08 L456.28,30.48 L457.19,30.90 L458.13,31.35 L459.10,31.84 L460.09,32.36 L461.12,32.89 L462.17,33.44 L463.25,34.00 L464.37,34.57 L465.53,35.17 L466.72,35.78 L467.92,36.40 L469.12,37.01 L470.31,37.60 L471.50,38.20 L472.70,38.81 L473.91,39.43 L475.10,40.01 L476.26,40.54 L477.38,41.00 L478.43,41.38 L479.43,41.68 L480.41,41.94 L481.38,42.16 L482.38,42.38 L483.43,42.60 L484.64,42.84 L485.98,43.07 L487.35,43.30 L488.63,43.50 L489.72,43.67 L490.50,43.80" stroke="#3a8db0" stroke-width="4.6" opacity="0.6" filter="url(#gl)"/><path d="M405.00,43.80 L405.77,43.67 L406.85,43.50 L408.12,43.30 L409.48,43.07 L410.81,42.84 L412.00,42.60 L413.05,42.38 L414.04,42.16 L415.00,41.94 L415.96,41.68 L416.95,41.38 L418.00,41.00 L419.11,40.54 L420.26,40.01 L421.44,39.43 L422.63,38.81 L423.82,38.20 L425.00,37.60 L426.18,37.01 L427.37,36.40 L428.56,35.78 L429.74,35.17 L430.89,34.57 L432.00,34.00 L433.07,33.44 L434.11,32.89 L435.12,32.36 L436.11,31.84 L437.07,31.35 L438.00,30.90 L438.90,30.48 L439.76,30.08 L440.59,29.71 L441.40,29.37 L442.20,29.06 L443.00,28.80 L443.84,28.58 L444.72,28.41 L445.59,28.27 L446.39,28.16 L447.06,28.07 L447.55,28.00 L447.55,28.00 L448.04,28.07 L448.72,28.16 L449.53,28.27 L450.41,28.41 L451.30,28.58 L452.14,28.80 L452.95,29.06 L453.75,29.37 L454.57,29.71 L455.42,30.08 L456.28,30.48 L457.19,30.90 L458.13,31.35 L459.10,31.84 L460.09,32.36 L461.12,32.89 L462.17,33.44 L463.25,34.00 L464.37,34.57 L465.53,35.17 L466.72,35.78 L467.92,36.40 L469.12,37.01 L470.31,37.60 L471.50,38.20 L472.70,38.81 L473.91,39.43 L475.10,40.01 L476.26,40.54 L477.38,41.00 L478.43,41.38 L479.43,41.68 L480.41,41.94 L481.38,42.16 L482.38,42.38 L483.43,42.60 L484.64,42.84 L485.98,43.07 L487.35,43.30 L488.63,43.50 L489.72,43.67 L490.50,43.80" stroke="#86cfe9" stroke-width="2.9" filter="url(#gs)"/><path d="M405.00,43.80 L405.77,43.67 L406.85,43.50 L408.12,43.30 L409.48,43.07 L410.81,42.84 L412.00,42.60 L413.05,42.38 L414.04,42.16 L415.00,41.94 L415.96,41.68 L416.95,41.38 L418.00,41.00 L419.11,40.54 L420.26,40.01 L421.44,39.43 L422.63,38.81 L423.82,38.20 L425.00,37.60 L426.18,37.01 L427.37,36.40 L428.56,35.78 L429.74,35.17 L430.89,34.57 L432.00,34.00 L433.07,33.44 L434.11,32.89 L435.12,32.36 L436.11,31.84 L437.07,31.35 L438.00,30.90 L438.90,30.48 L439.76,30.08 L440.59,29.71 L441.40,29.37 L442.20,29.06 L443.00,28.80 L443.84,28.58 L444.72,28.41 L445.59,28.27 L446.39,28.16 L447.06,28.07 L447.55,28.00 L447.55,28.00 L448.04,28.07 L448.72,28.16 L449.53,28.27 L450.41,28.41 L451.30,28.58 L452.14,28.80 L452.95,29.06 L453.75,29.37 L454.57,29.71 L455.42,30.08 L456.28,30.48 L457.19,30.90 L458.13,31.35 L459.10,31.84 L460.09,32.36 L461.12,32.89 L462.17,33.44 L463.25,34.00 L464.37,34.57 L465.53,35.17 L466.72,35.78 L467.92,36.40 L469.12,37.01 L470.31,37.60 L471.50,38.20 L472.70,38.81 L473.91,39.43 L475.10,40.01 L476.26,40.54 L477.38,41.00 L478.43,41.38 L479.43,41.68 L480.41,41.94 L481.38,42.16 L482.38,42.38 L483.43,42.60 L484.64,42.84 L485.98,43.07 L487.35,43.30 L488.63,43.50 L489.72,43.67 L490.50,43.80" stroke="#3a8aa8" stroke-width="0.9" stroke-dasharray="1.2 1.2" opacity="0.85"/></g>
<g clip-path="url(#clc)" fill="none" stroke-linejoin="round" stroke-linecap="round"><path d="M405.00,59.65 L406.06,59.82 L407.13,60.09 L408.19,60.45 L409.25,60.91 L410.32,61.46 L411.38,62.09 L412.45,62.81 L413.51,63.61 L414.57,64.48 L415.64,65.42 L416.70,66.43 L417.76,67.50 L418.83,68.62 L419.89,69.78 L420.96,70.99 L422.02,72.22 L423.08,73.49 L424.15,74.76 L425.21,76.05 L426.27,77.35 L427.34,78.63 L428.40,79.91 L429.47,81.17 L430.53,82.40 L431.59,83.59 L432.66,84.75 L433.72,85.85 L434.79,86.91 L435.85,87.90 L436.91,88.83 L437.98,89.68 L439.04,90.46 L440.10,91.16 L441.17,91.78 L442.23,92.30 L443.30,92.74 L444.36,93.08 L445.42,93.32 L446.49,93.47 L447.55,93.52 L447.55,93.52 L448.62,93.47 L449.70,93.32 L450.77,93.08 L451.85,92.74 L452.92,92.30 L453.99,91.78 L455.07,91.16 L456.14,90.46 L457.21,89.68 L458.29,88.83 L459.36,87.90 L460.44,86.91 L461.51,85.85 L462.58,84.75 L463.66,83.59 L464.73,82.40 L465.80,81.17 L466.88,79.91 L467.95,78.63 L469.02,77.35 L470.10,76.05 L471.17,74.76 L472.25,73.49 L473.32,72.22 L474.39,70.99 L475.47,69.78 L476.54,68.62 L477.62,67.50 L478.69,66.43 L479.76,65.42 L480.84,64.48 L481.91,63.61 L482.98,62.81 L484.06,62.09 L485.13,61.46 L486.20,60.91 L487.28,60.45 L488.35,60.09 L489.43,59.82 L490.50,59.65" stroke="#3a8db0" stroke-width="4.6" opacity="0.6" filter="url(#gl)"/><path d="M405.00,59.65 L406.06,59.82 L407.13,60.09 L408.19,60.45 L409.25,60.91 L410.32,61.46 L411.38,62.09 L412.45,62.81 L413.51,63.61 L414.57,64.48 L415.64,65.42 L416.70,66.43 L417.76,67.50 L418.83,68.62 L419.89,69.78 L420.96,70.99 L422.02,72.22 L423.08,73.49 L424.15,74.76 L425.21,76.05 L426.27,77.35 L427.34,78.63 L428.40,79.91 L429.47,81.17 L430.53,82.40 L431.59,83.59 L432.66,84.75 L433.72,85.85 L434.79,86.91 L435.85,87.90 L436.91,88.83 L437.98,89.68 L439.04,90.46 L440.10,91.16 L441.17,91.78 L442.23,92.30 L443.30,92.74 L444.36,93.08 L445.42,93.32 L446.49,93.47 L447.55,93.52 L447.55,93.52 L448.62,93.47 L449.70,93.32 L450.77,93.08 L451.85,92.74 L452.92,92.30 L453.99,91.78 L455.07,91.16 L456.14,90.46 L457.21,89.68 L458.29,88.83 L459.36,87.90 L460.44,86.91 L461.51,85.85 L462.58,84.75 L463.66,83.59 L464.73,82.40 L465.80,81.17 L466.88,79.91 L467.95,78.63 L469.02,77.35 L470.10,76.05 L471.17,74.76 L472.25,73.49 L473.32,72.22 L474.39,70.99 L475.47,69.78 L476.54,68.62 L477.62,67.50 L478.69,66.43 L479.76,65.42 L480.84,64.48 L481.91,63.61 L482.98,62.81 L484.06,62.09 L485.13,61.46 L486.20,60.91 L487.28,60.45 L488.35,60.09 L489.43,59.82 L490.50,59.65" stroke="#86cfe9" stroke-width="2.9" filter="url(#gs)"/><path d="M405.00,59.65 L406.06,59.82 L407.13,60.09 L408.19,60.45 L409.25,60.91 L410.32,61.46 L411.38,62.09 L412.45,62.81 L413.51,63.61 L414.57,64.48 L415.64,65.42 L416.70,66.43 L417.76,67.50 L418.83,68.62 L419.89,69.78 L420.96,70.99 L422.02,72.22 L423.08,73.49 L424.15,74.76 L425.21,76.05 L426.27,77.35 L427.34,78.63 L428.40,79.91 L429.47,81.17 L430.53,82.40 L431.59,83.59 L432.66,84.75 L433.72,85.85 L434.79,86.91 L435.85,87.90 L436.91,88.83 L437.98,89.68 L439.04,90.46 L440.10,91.16 L441.17,91.78 L442.23,92.30 L443.30,92.74 L444.36,93.08 L445.42,93.32 L446.49,93.47 L447.55,93.52 L447.55,93.52 L448.62,93.47 L449.70,93.32 L450.77,93.08 L451.85,92.74 L452.92,92.30 L453.99,91.78 L455.07,91.16 L456.14,90.46 L457.21,89.68 L458.29,88.83 L459.36,87.90 L460.44,86.91 L461.51,85.85 L462.58,84.75 L463.66,83.59 L464.73,82.40 L465.80,81.17 L466.88,79.91 L467.95,78.63 L469.02,77.35 L470.10,76.05 L471.17,74.76 L472.25,73.49 L473.32,72.22 L474.39,70.99 L475.47,69.78 L476.54,68.62 L477.62,67.50 L478.69,66.43 L479.76,65.42 L480.84,64.48 L481.91,63.61 L482.98,62.81 L484.06,62.09 L485.13,61.46 L486.20,60.91 L487.28,60.45 L488.35,60.09 L489.43,59.82 L490.50,59.65" stroke="#3a8aa8" stroke-width="0.9" stroke-dasharray="1.2 1.2" opacity="0.85"/></g>
<g clip-path="url(#clc)" fill="none" stroke-linejoin="round" stroke-linecap="round"><path d="M405.00,68.86 L406.06,69.24 L407.13,69.85 L408.19,70.67 L409.25,71.70 L410.32,72.94 L411.38,74.38 L412.45,76.00 L413.51,77.81 L414.57,79.78 L415.64,81.92 L416.70,84.20 L417.76,86.61 L418.83,89.14 L419.89,91.78 L420.96,94.50 L422.02,97.30 L423.08,100.15 L424.15,103.05 L425.21,105.96 L426.27,108.89 L427.34,111.80 L428.40,114.69 L429.47,117.53 L430.53,120.31 L431.59,123.01 L432.66,125.63 L433.72,128.13 L434.79,130.51 L435.85,132.76 L436.91,134.86 L437.98,136.79 L439.04,138.56 L440.10,140.14 L441.17,141.53 L442.23,142.72 L443.30,143.70 L444.36,144.47 L445.42,145.02 L446.49,145.36 L447.55,145.47 L447.55,145.47 L448.62,145.36 L449.70,145.02 L450.77,144.47 L451.85,143.70 L452.92,142.72 L453.99,141.53 L455.07,140.14 L456.14,138.56 L457.21,136.79 L458.29,134.86 L459.36,132.76 L460.44,130.51 L461.51,128.13 L462.58,125.63 L463.66,123.01 L464.73,120.31 L465.80,117.53 L466.88,114.69 L467.95,111.80 L469.02,108.89 L470.10,105.96 L471.17,103.05 L472.25,100.15 L473.32,97.30 L474.39,94.50 L475.47,91.78 L476.54,89.14 L477.62,86.61 L478.69,84.20 L479.76,81.92 L480.84,79.78 L481.91,77.81 L482.98,76.00 L484.06,74.38 L485.13,72.94 L486.20,71.70 L487.28,70.67 L488.35,69.85 L489.43,69.24 L490.50,68.86" stroke="#3a8db0" stroke-width="3.4" opacity="0.6" filter="url(#gl)"/><path d="M405.00,68.86 L406.06,69.24 L407.13,69.85 L408.19,70.67 L409.25,71.70 L410.32,72.94 L411.38,74.38 L412.45,76.00 L413.51,77.81 L414.57,79.78 L415.64,81.92 L416.70,84.20 L417.76,86.61 L418.83,89.14 L419.89,91.78 L420.96,94.50 L422.02,97.30 L423.08,100.15 L424.15,103.05 L425.21,105.96 L426.27,108.89 L427.34,111.80 L428.40,114.69 L429.47,117.53 L430.53,120.31 L431.59,123.01 L432.66,125.63 L433.72,128.13 L434.79,130.51 L435.85,132.76 L436.91,134.86 L437.98,136.79 L439.04,138.56 L440.10,140.14 L441.17,141.53 L442.23,142.72 L443.30,143.70 L444.36,144.47 L445.42,145.02 L446.49,145.36 L447.55,145.47 L447.55,145.47 L448.62,145.36 L449.70,145.02 L450.77,144.47 L451.85,143.70 L452.92,142.72 L453.99,141.53 L455.07,140.14 L456.14,138.56 L457.21,136.79 L458.29,134.86 L459.36,132.76 L460.44,130.51 L461.51,128.13 L462.58,125.63 L463.66,123.01 L464.73,120.31 L465.80,117.53 L466.88,114.69 L467.95,111.80 L469.02,108.89 L470.10,105.96 L471.17,103.05 L472.25,100.15 L473.32,97.30 L474.39,94.50 L475.47,91.78 L476.54,89.14 L477.62,86.61 L478.69,84.20 L479.76,81.92 L480.84,79.78 L481.91,77.81 L482.98,76.00 L484.06,74.38 L485.13,72.94 L486.20,71.70 L487.28,70.67 L488.35,69.85 L489.43,69.24 L490.50,68.86" stroke="#8ed2ea" stroke-width="1.7" filter="url(#gs)"/><path d="M405.00,68.86 L406.06,69.24 L407.13,69.85 L408.19,70.67 L409.25,71.70 L410.32,72.94 L411.38,74.38 L412.45,76.00 L413.51,77.81 L414.57,79.78 L415.64,81.92 L416.70,84.20 L417.76,86.61 L418.83,89.14 L419.89,91.78 L420.96,94.50 L422.02,97.30 L423.08,100.15 L424.15,103.05 L425.21,105.96 L426.27,108.89 L427.34,111.80 L428.40,114.69 L429.47,117.53 L430.53,120.31 L431.59,123.01 L432.66,125.63 L433.72,128.13 L434.79,130.51 L435.85,132.76 L436.91,134.86 L437.98,136.79 L439.04,138.56 L440.10,140.14 L441.17,141.53 L442.23,142.72 L443.30,143.70 L444.36,144.47 L445.42,145.02 L446.49,145.36 L447.55,145.47 L447.55,145.47 L448.62,145.36 L449.70,145.02 L450.77,144.47 L451.85,143.70 L452.92,142.72 L453.99,141.53 L455.07,140.14 L456.14,138.56 L457.21,136.79 L458.29,134.86 L459.36,132.76 L460.44,130.51 L461.51,128.13 L462.58,125.63 L463.66,123.01 L464.73,120.31 L465.80,117.53 L466.88,114.69 L467.95,111.80 L469.02,108.89 L470.10,105.96 L471.17,103.05 L472.25,100.15 L473.32,97.30 L474.39,94.50 L475.47,91.78 L476.54,89.14 L477.62,86.61 L478.69,84.20 L479.76,81.92 L480.84,79.78 L481.91,77.81 L482.98,76.00 L484.06,74.38 L485.13,72.94 L486.20,71.70 L487.28,70.67 L488.35,69.85 L489.43,69.24 L490.50,68.86" stroke="#c8eef9" stroke-width="0.6" opacity="0.7"/></g>
<g clip-path="url(#clc)" fill="none" stroke-linejoin="round" stroke-linecap="round"><path d="M405.00,113.58 L405.77,113.65 L406.85,113.73 L408.13,113.83 L409.47,114.00 L410.73,114.26 L411.81,114.64 L412.68,115.15 L413.45,115.77 L414.16,116.48 L414.83,117.27 L415.49,118.12 L416.19,119.01 L416.91,119.95 L417.63,120.95 L418.34,122.01 L419.05,123.14 L419.77,124.32 L420.49,125.56 L421.21,126.87 L421.94,128.26 L422.67,129.70 L423.41,131.19 L424.14,132.71 L424.87,134.24 L425.60,135.80 L426.33,137.41 L427.06,139.05 L427.79,140.70 L428.52,142.35 L429.25,143.99 L429.99,145.65 L430.73,147.33 L431.47,149.02 L432.21,150.68 L432.94,152.28 L433.68,153.79 L434.41,155.22 L435.14,156.61 L435.87,157.94 L436.60,159.19 L437.33,160.35 L438.06,161.41 L438.79,162.36 L439.51,163.23 L440.23,164.00 L440.96,164.68 L441.71,165.28 L442.49,165.78 L443.35,166.16 L444.31,166.41 L445.29,166.58 L446.21,166.69 L446.99,166.76 L447.55,166.84 L447.55,166.84 L448.11,166.76 L448.90,166.69 L449.83,166.58 L450.82,166.41 L451.79,166.16 L452.66,165.78 L453.44,165.28 L454.20,164.68 L454.94,164.00 L455.67,163.23 L456.39,162.36 L457.13,161.41 L457.87,160.35 L458.60,159.19 L459.34,157.94 L460.08,156.61 L460.81,155.22 L461.55,153.79 L462.29,152.28 L463.04,150.68 L463.79,149.02 L464.53,147.33 L465.28,145.65 L466.02,143.99 L466.76,142.35 L467.50,140.70 L468.23,139.05 L468.97,137.41 L469.71,135.80 L470.44,134.24 L471.18,132.71 L471.92,131.19 L472.66,129.70 L473.40,128.26 L474.13,126.87 L474.87,125.56 L475.59,124.32 L476.32,123.14 L477.04,122.01 L477.75,120.95 L478.48,119.95 L479.20,119.01 L479.91,118.12 L480.58,117.27 L481.26,116.48 L481.97,115.77 L482.75,115.15 L483.63,114.64 L484.71,114.26 L485.99,114.00 L487.34,113.83 L488.63,113.73 L489.72,113.65 L490.50,113.58" stroke="#3a8db0" stroke-width="4.6" opacity="0.6" filter="url(#gl)"/><path d="M405.00,113.58 L405.77,113.65 L406.85,113.73 L408.13,113.83 L409.47,114.00 L410.73,114.26 L411.81,114.64 L412.68,115.15 L413.45,115.77 L414.16,116.48 L414.83,117.27 L415.49,118.12 L416.19,119.01 L416.91,119.95 L417.63,120.95 L418.34,122.01 L419.05,123.14 L419.77,124.32 L420.49,125.56 L421.21,126.87 L421.94,128.26 L422.67,129.70 L423.41,131.19 L424.14,132.71 L424.87,134.24 L425.60,135.80 L426.33,137.41 L427.06,139.05 L427.79,140.70 L428.52,142.35 L429.25,143.99 L429.99,145.65 L430.73,147.33 L431.47,149.02 L432.21,150.68 L432.94,152.28 L433.68,153.79 L434.41,155.22 L435.14,156.61 L435.87,157.94 L436.60,159.19 L437.33,160.35 L438.06,161.41 L438.79,162.36 L439.51,163.23 L440.23,164.00 L440.96,164.68 L441.71,165.28 L442.49,165.78 L443.35,166.16 L444.31,166.41 L445.29,166.58 L446.21,166.69 L446.99,166.76 L447.55,166.84 L447.55,166.84 L448.11,166.76 L448.90,166.69 L449.83,166.58 L450.82,166.41 L451.79,166.16 L452.66,165.78 L453.44,165.28 L454.20,164.68 L454.94,164.00 L455.67,163.23 L456.39,162.36 L457.13,161.41 L457.87,160.35 L458.60,159.19 L459.34,157.94 L460.08,156.61 L460.81,155.22 L461.55,153.79 L462.29,152.28 L463.04,150.68 L463.79,149.02 L464.53,147.33 L465.28,145.65 L466.02,143.99 L466.76,142.35 L467.50,140.70 L468.23,139.05 L468.97,137.41 L469.71,135.80 L470.44,134.24 L471.18,132.71 L471.92,131.19 L472.66,129.70 L473.40,128.26 L474.13,126.87 L474.87,125.56 L475.59,124.32 L476.32,123.14 L477.04,122.01 L477.75,120.95 L478.48,119.95 L479.20,119.01 L479.91,118.12 L480.58,117.27 L481.26,116.48 L481.97,115.77 L482.75,115.15 L483.63,114.64 L484.71,114.26 L485.99,114.00 L487.34,113.83 L488.63,113.73 L489.72,113.65 L490.50,113.58" stroke="#86cfe9" stroke-width="2.9" filter="url(#gs)"/><path d="M405.00,113.58 L405.77,113.65 L406.85,113.73 L408.13,113.83 L409.47,114.00 L410.73,114.26 L411.81,114.64 L412.68,115.15 L413.45,115.77 L414.16,116.48 L414.83,117.27 L415.49,118.12 L416.19,119.01 L416.91,119.95 L417.63,120.95 L418.34,122.01 L419.05,123.14 L419.77,124.32 L420.49,125.56 L421.21,126.87 L421.94,128.26 L422.67,129.70 L423.41,131.19 L424.14,132.71 L424.87,134.24 L425.60,135.80 L426.33,137.41 L427.06,139.05 L427.79,140.70 L428.52,142.35 L429.25,143.99 L429.99,145.65 L430.73,147.33 L431.47,149.02 L432.21,150.68 L432.94,152.28 L433.68,153.79 L434.41,155.22 L435.14,156.61 L435.87,157.94 L436.60,159.19 L437.33,160.35 L438.06,161.41 L438.79,162.36 L439.51,163.23 L440.23,164.00 L440.96,164.68 L441.71,165.28 L442.49,165.78 L443.35,166.16 L444.31,166.41 L445.29,166.58 L446.21,166.69 L446.99,166.76 L447.55,166.84 L447.55,166.84 L448.11,166.76 L448.90,166.69 L449.83,166.58 L450.82,166.41 L451.79,166.16 L452.66,165.78 L453.44,165.28 L454.20,164.68 L454.94,164.00 L455.67,163.23 L456.39,162.36 L457.13,161.41 L457.87,160.35 L458.60,159.19 L459.34,157.94 L460.08,156.61 L460.81,155.22 L461.55,153.79 L462.29,152.28 L463.04,150.68 L463.79,149.02 L464.53,147.33 L465.28,145.65 L466.02,143.99 L466.76,142.35 L467.50,140.70 L468.23,139.05 L468.97,137.41 L469.71,135.80 L470.44,134.24 L471.18,132.71 L471.92,131.19 L472.66,129.70 L473.40,128.26 L474.13,126.87 L474.87,125.56 L475.59,124.32 L476.32,123.14 L477.04,122.01 L477.75,120.95 L478.48,119.95 L479.20,119.01 L479.91,118.12 L480.58,117.27 L481.26,116.48 L481.97,115.77 L482.75,115.15 L483.63,114.64 L484.71,114.26 L485.99,114.00 L487.34,113.83 L488.63,113.73 L489.72,113.65 L490.50,113.58" stroke="#3a8aa8" stroke-width="0.9" stroke-dasharray="1.2 1.2" opacity="0.85"/></g>
<rect x="405.50" y="6.30" width="84.50" height="162.10" fill="none" stroke="#000" stroke-width="1"/>
<rect x="490.50" y="5.80" width="1.6" height="163.10" fill="url(#re)"/>
<rect x="404.00" y="4.50" width="87.70" height="1.3" fill="url(#te)"/>
<rect x="445.85" y="5.8" width="3.40" height="163.10" fill="#000" opacity="0.55"/>
<rect x="446.75" y="5.8" width="1.60" height="163.10" fill="#c8c4c0"/>
<line x1="405.0" y1="47.6" x2="492.5" y2="47.6" stroke="#c6c62c" stroke-width="1.25" stroke-dasharray="3.9 1.6"/>
<line x1="405.0" y1="57.3" x2="492.5" y2="57.3" stroke="#c6c62c" stroke-width="1.25" stroke-dasharray="3.9 1.6"/>
<text x="411.5" y="57.0" font-family='"Liberation Sans", sans-serif' font-size="11.6" letter-spacing="0.35" fill="#f2ea1a">OMBG</text>
<text x="405.4" y="16.8" font-family='"Liberation Sans", sans-serif' font-size="15" letter-spacing="0.9" fill="#ece4e0">(c)</text>
<line x1="403.7" y1="5.4" x2="403.7" y2="169.8" stroke="#555" stroke-width="1"/>
<line x1="403.7" y1="169.8" x2="491.50" y2="169.8" stroke="#888" stroke-width="1"/>
<line x1="395.20" y1="169.80" x2="403.7" y2="169.80" stroke="#444" stroke-width="1"/>
<text x="395.0" y="172.70" text-anchor="end" font-family='"Liberation Sans", sans-serif' font-size="9.3" fill="#1a1a1a" stroke="#1a1a1a" stroke-width="0.2">0</text>
<line x1="399.20" y1="153.36" x2="403.7" y2="153.36" stroke="#444" stroke-width="1"/>
<line x1="395.20" y1="136.92" x2="403.7" y2="136.92" stroke="#444" stroke-width="1"/>
<text x="395.0" y="139.82" text-anchor="end" font-family='"Liberation Sans", sans-serif' font-size="9.3" fill="#1a1a1a" stroke="#1a1a1a" stroke-width="0.2">100</text>
<line x1="399.20" y1="120.48" x2="403.7" y2="120.48" stroke="#444" stroke-width="1"/>
<line x1="395.20" y1="104.04" x2="403.7" y2="104.04" stroke="#444" stroke-width="1"/>
<text x="395.0" y="106.94" text-anchor="end" font-family='"Liberation Sans", sans-serif' font-size="9.3" fill="#1a1a1a" stroke="#1a1a1a" stroke-width="0.2">200</text>
<line x1="399.20" y1="87.60" x2="403.7" y2="87.60" stroke="#444" stroke-width="1"/>
<line x1="395.20" y1="71.16" x2="403.7" y2="71.16" stroke="#444" stroke-width="1"/>
<text x="395.0" y="74.06" text-anchor="end" font-family='"Liberation Sans", sans-serif' font-size="9.3" fill="#1a1a1a" stroke="#1a1a1a" stroke-width="0.2">300</text>
<line x1="399.20" y1="54.72" x2="403.7" y2="54.72" stroke="#444" stroke-width="1"/>
<line x1="395.20" y1="38.28" x2="403.7" y2="38.28" stroke="#444" stroke-width="1"/>
<text x="395.0" y="41.18" text-anchor="end" font-family='"Liberation Sans", sans-serif' font-size="9.3" fill="#1a1a1a" stroke="#1a1a1a" stroke-width="0.2">400</text>
<line x1="399.20" y1="21.84" x2="403.7" y2="21.84" stroke="#444" stroke-width="1"/>
<line x1="395.20" y1="5.40" x2="403.7" y2="5.40" stroke="#444" stroke-width="1"/>
<text x="395.0" y="8.30" text-anchor="end" font-family='"Liberation Sans", sans-serif' font-size="9.3" fill="#1a1a1a" stroke="#1a1a1a" stroke-width="0.2">500</text>
<text x="404.00" y="181.00" text-anchor="middle" font-family='"Liberation Sans", sans-serif' font-size="9.9" fill="#1a1a1a" stroke="#1a1a1a" stroke-width="0.15">X</text>
<line x1="400.50" y1="171.90" x2="407.50" y2="171.90" stroke="#333" stroke-width="0.9"/>
<text x="449.30" y="181.00" text-anchor="middle" font-family='"Liberation Sans", sans-serif' font-size="9.9" fill="#1a1a1a" stroke="#1a1a1a" stroke-width="0.15">Γ</text>
<line x1="445.80" y1="171.90" x2="452.80" y2="171.90" stroke="#333" stroke-width="0.9"/>
<text x="491.00" y="181.00" text-anchor="middle" font-family='"Liberation Sans", sans-serif' font-size="9.9" fill="#1a1a1a" stroke="#1a1a1a" stroke-width="0.15">X</text>
<line x1="487.50" y1="171.90" x2="494.50" y2="171.90" stroke="#333" stroke-width="0.9"/>
<rect x="38.6" y="193.5" width="86.40" height="162.80" fill="#0e0e0e"/>
<rect x="37.50" y="193.5" width="1.2" height="162.80" fill="#8db2c2"/>
<rect x="37.50" y="356.00" width="87.50" height="1.0" fill="#7f9aa6"/>
<g clip-path="url(#cld)" fill="none" stroke-linejoin="round" stroke-linecap="round"><path d="M38.60,289.50 L39.28,289.22 L40.20,288.83 L41.31,288.37 L42.52,287.86 L43.78,287.33 L45.01,286.80 L46.31,286.24 L47.73,285.62 L49.19,284.98 L50.62,284.35 L51.93,283.78 L53.03,283.30 L53.91,282.92 L54.60,282.61 L55.18,282.36 L55.69,282.14 L56.20,281.96 L56.74,281.80 L57.30,281.70 L57.81,281.67 L58.31,281.68 L58.84,281.67 L59.40,281.59 L60.05,281.40 L60.79,281.07 L61.59,280.63 L62.45,280.12 L63.33,279.59 L64.21,279.07 L65.06,278.60 L65.88,278.19 L66.69,277.79 L67.50,277.41 L68.33,277.03 L69.18,276.67 L70.07,276.30 L71.02,275.93 L72.01,275.54 L73.02,275.17 L74.05,274.81 L75.08,274.48 L76.09,274.20 L77.15,273.96 L78.28,273.75 L79.42,273.57 L80.47,273.42 L81.36,273.30 L82.00,273.20 L82.00,273.20 L82.64,273.30 L83.52,273.42 L84.56,273.57 L85.68,273.75 L86.81,273.96 L87.86,274.20 L88.86,274.48 L89.87,274.81 L90.89,275.17 L91.90,275.54 L92.88,275.93 L93.82,276.30 L94.70,276.67 L95.55,277.03 L96.36,277.41 L97.16,277.79 L97.97,278.19 L98.78,278.60 L99.63,279.07 L100.50,279.59 L101.37,280.12 L102.22,280.63 L103.02,281.07 L103.75,281.40 L104.39,281.59 L104.95,281.67 L105.47,281.68 L105.97,281.67 L106.48,281.70 L107.03,281.80 L107.57,281.96 L108.06,282.14 L108.57,282.36 L109.14,282.61 L109.84,282.92 L110.70,283.30 L111.80,283.78 L113.09,284.35 L114.50,284.98 L115.96,285.62 L117.36,286.24 L118.64,286.80 L119.87,287.33 L121.12,287.86 L122.32,288.37 L123.41,288.83 L124.33,289.22 L125.00,289.50" stroke="#2f7394" stroke-width="6.0" opacity="0.55" filter="url(#gl)"/><path d="M38.60,289.50 L39.28,289.22 L40.20,288.83 L41.31,288.37 L42.52,287.86 L43.78,287.33 L45.01,286.80 L46.31,286.24 L47.73,285.62 L49.19,284.98 L50.62,284.35 L51.93,283.78 L53.03,283.30 L53.91,282.92 L54.60,282.61 L55.18,282.36 L55.69,282.14 L56.20,281.96 L56.74,281.80 L57.30,281.70 L57.81,281.67 L58.31,281.68 L58.84,281.67 L59.40,281.59 L60.05,281.40 L60.79,281.07 L61.59,280.63 L62.45,280.12 L63.33,279.59 L64.21,279.07 L65.06,278.60 L65.88,278.19 L66.69,277.79 L67.50,277.41 L68.33,277.03 L69.18,276.67 L70.07,276.30 L71.02,275.93 L72.01,275.54 L73.02,275.17 L74.05,274.81 L75.08,274.48 L76.09,274.20 L77.15,273.96 L78.28,273.75 L79.42,273.57 L80.47,273.42 L81.36,273.30 L82.00,273.20 L82.00,273.20 L82.64,273.30 L83.52,273.42 L84.56,273.57 L85.68,273.75 L86.81,273.96 L87.86,274.20 L88.86,274.48 L89.87,274.81 L90.89,275.17 L91.90,275.54 L92.88,275.93 L93.82,276.30 L94.70,276.67 L95.55,277.03 L96.36,277.41 L97.16,277.79 L97.97,278.19 L98.78,278.60 L99.63,279.07 L100.50,279.59 L101.37,280.12 L102.22,280.63 L103.02,281.07 L103.75,281.40 L104.39,281.59 L104.95,281.67 L105.47,281.68 L105.97,281.67 L106.48,281.70 L107.03,281.80 L107.57,281.96 L108.06,282.14 L108.57,282.36 L109.14,282.61 L109.84,282.92 L110.70,283.30 L111.80,283.78 L113.09,284.35 L114.50,284.98 L115.96,285.62 L117.36,286.24 L118.64,286.80 L119.87,287.33 L121.12,287.86 L122.32,288.37 L123.41,288.83 L124.33,289.22 L125.00,289.50" stroke="#559fc2" stroke-width="4.2" filter="url(#gs)"/><path d="M38.60,289.50 L39.28,289.22 L40.20,288.83 L41.31,288.37 L42.52,287.86 L43.78,287.33 L45.01,286.80 L46.31,286.24 L47.73,285.62 L49.19,284.98 L50.62,284.35 L51.93,283.78 L53.03,283.30 L53.91,282.92 L54.60,282.61 L55.18,282.36 L55.69,282.14 L56.20,281.96 L56.74,281.80 L57.30,281.70 L57.81,281.67 L58.31,281.68 L58.84,281.67 L59.40,281.59 L60.05,281.40 L60.79,281.07 L61.59,280.63 L62.45,280.12 L63.33,279.59 L64.21,279.07 L65.06,278.60 L65.88,278.19 L66.69,277.79 L67.50,277.41 L68.33,277.03 L69.18,276.67 L70.07,276.30 L71.02,275.93 L72.01,275.54 L73.02,275.17 L74.05,274.81 L75.08,274.48 L76.09,274.20 L77.15,273.96 L78.28,273.75 L79.42,273.57 L80.47,273.42 L81.36,273.30 L82.00,273.20 L82.00,273.20 L82.64,273.30 L83.52,273.42 L84.56,273.57 L85.68,273.75 L86.81,273.96 L87.86,274.20 L88.86,274.48 L89.87,274.81 L90.89,275.17 L91.90,275.54 L92.88,275.93 L93.82,276.30 L94.70,276.67 L95.55,277.03 L96.36,277.41 L97.16,277.79 L97.97,278.19 L98.78,278.60 L99.63,279.07 L100.50,279.59 L101.37,280.12 L102.22,280.63 L103.02,281.07 L103.75,281.40 L104.39,281.59 L104.95,281.67 L105.47,281.68 L105.97,281.67 L106.48,281.70 L107.03,281.80 L107.57,281.96 L108.06,282.14 L108.57,282.36 L109.14,282.61 L109.84,282.92 L110.70,283.30 L111.80,283.78 L113.09,284.35 L114.50,284.98 L115.96,285.62 L117.36,286.24 L118.64,286.80 L119.87,287.33 L121.12,287.86 L122.32,288.37 L123.41,288.83 L124.33,289.22 L125.00,289.50" stroke="#9ad4ea" stroke-width="1.3" filter="url(#gs)"/></g>
<g clip-path="url(#cld)" fill="none" stroke-linejoin="round" stroke-linecap="round"><path d="M38.60,298.20 L39.12,299.08 L39.81,300.29 L40.65,301.73 L41.57,303.30 L42.54,304.89 L43.51,306.40 L44.51,307.87 L45.58,309.37 L46.69,310.90 L47.82,312.44 L48.94,313.98 L50.03,315.50 L51.05,316.94 L52.01,318.30 L52.97,319.66 L53.97,321.10 L55.04,322.68 L56.24,324.50 L57.64,326.69 L59.23,329.23 L60.90,331.92 L62.54,334.57 L64.06,336.99 L65.36,339.00 L66.41,340.54 L67.27,341.76 L68.01,342.75 L68.69,343.61 L69.36,344.43 L70.07,345.30 L70.83,346.22 L71.58,347.12 L72.32,347.98 L73.05,348.78 L73.77,349.53 L74.48,350.20 L75.19,350.80 L75.90,351.34 L76.60,351.81 L77.29,352.23 L77.95,352.59 L78.59,352.90 L79.24,353.14 L79.91,353.31 L80.55,353.42 L81.14,353.49 L81.64,353.55 L82.00,353.60 L82.00,353.60 L82.36,353.55 L82.85,353.49 L83.43,353.42 L84.07,353.31 L84.73,353.14 L85.38,352.90 L86.01,352.59 L86.67,352.23 L87.35,351.81 L88.04,351.34 L88.74,350.80 L89.45,350.20 L90.16,349.53 L90.87,348.78 L91.60,347.98 L92.33,347.12 L93.07,346.22 L93.82,345.30 L94.53,344.43 L95.19,343.61 L95.86,342.75 L96.59,341.76 L97.45,340.54 L98.48,339.00 L99.77,336.99 L101.28,334.57 L102.91,331.92 L104.56,329.23 L106.13,326.69 L107.52,324.50 L108.71,322.68 L109.78,321.10 L110.76,319.66 L111.71,318.30 L112.67,316.94 L113.68,315.50 L114.76,313.98 L115.87,312.44 L116.99,310.90 L118.09,309.37 L119.15,307.87 L120.13,306.40 L121.09,304.89 L122.05,303.30 L122.97,301.73 L123.80,300.29 L124.49,299.08 L125.00,298.20" stroke="#3a8db0" stroke-width="4.6" opacity="0.6" filter="url(#gl)"/><path d="M38.60,298.20 L39.12,299.08 L39.81,300.29 L40.65,301.73 L41.57,303.30 L42.54,304.89 L43.51,306.40 L44.51,307.87 L45.58,309.37 L46.69,310.90 L47.82,312.44 L48.94,313.98 L50.03,315.50 L51.05,316.94 L52.01,318.30 L52.97,319.66 L53.97,321.10 L55.04,322.68 L56.24,324.50 L57.64,326.69 L59.23,329.23 L60.90,331.92 L62.54,334.57 L64.06,336.99 L65.36,339.00 L66.41,340.54 L67.27,341.76 L68.01,342.75 L68.69,343.61 L69.36,344.43 L70.07,345.30 L70.83,346.22 L71.58,347.12 L72.32,347.98 L73.05,348.78 L73.77,349.53 L74.48,350.20 L75.19,350.80 L75.90,351.34 L76.60,351.81 L77.29,352.23 L77.95,352.59 L78.59,352.90 L79.24,353.14 L79.91,353.31 L80.55,353.42 L81.14,353.49 L81.64,353.55 L82.00,353.60 L82.00,353.60 L82.36,353.55 L82.85,353.49 L83.43,353.42 L84.07,353.31 L84.73,353.14 L85.38,352.90 L86.01,352.59 L86.67,352.23 L87.35,351.81 L88.04,351.34 L88.74,350.80 L89.45,350.20 L90.16,349.53 L90.87,348.78 L91.60,347.98 L92.33,347.12 L93.07,346.22 L93.82,345.30 L94.53,344.43 L95.19,343.61 L95.86,342.75 L96.59,341.76 L97.45,340.54 L98.48,339.00 L99.77,336.99 L101.28,334.57 L102.91,331.92 L104.56,329.23 L106.13,326.69 L107.52,324.50 L108.71,322.68 L109.78,321.10 L110.76,319.66 L111.71,318.30 L112.67,316.94 L113.68,315.50 L114.76,313.98 L115.87,312.44 L116.99,310.90 L118.09,309.37 L119.15,307.87 L120.13,306.40 L121.09,304.89 L122.05,303.30 L122.97,301.73 L123.80,300.29 L124.49,299.08 L125.00,298.20" stroke="#86cfe9" stroke-width="2.9" filter="url(#gs)"/><path d="M38.60,298.20 L39.12,299.08 L39.81,300.29 L40.65,301.73 L41.57,303.30 L42.54,304.89 L43.51,306.40 L44.51,307.87 L45.58,309.37 L46.69,310.90 L47.82,312.44 L48.94,313.98 L50.03,315.50 L51.05,316.94 L52.01,318.30 L52.97,319.66 L53.97,321.10 L55.04,322.68 L56.24,324.50 L57.64,326.69 L59.23,329.23 L60.90,331.92 L62.54,334.57 L64.06,336.99 L65.36,339.00 L66.41,340.54 L67.27,341.76 L68.01,342.75 L68.69,343.61 L69.36,344.43 L70.07,345.30 L70.83,346.22 L71.58,347.12 L72.32,347.98 L73.05,348.78 L73.77,349.53 L74.48,350.20 L75.19,350.80 L75.90,351.34 L76.60,351.81 L77.29,352.23 L77.95,352.59 L78.59,352.90 L79.24,353.14 L79.91,353.31 L80.55,353.42 L81.14,353.49 L81.64,353.55 L82.00,353.60 L82.00,353.60 L82.36,353.55 L82.85,353.49 L83.43,353.42 L84.07,353.31 L84.73,353.14 L85.38,352.90 L86.01,352.59 L86.67,352.23 L87.35,351.81 L88.04,351.34 L88.74,350.80 L89.45,350.20 L90.16,349.53 L90.87,348.78 L91.60,347.98 L92.33,347.12 L93.07,346.22 L93.82,345.30 L94.53,344.43 L95.19,343.61 L95.86,342.75 L96.59,341.76 L97.45,340.54 L98.48,339.00 L99.77,336.99 L101.28,334.57 L102.91,331.92 L104.56,329.23 L106.13,326.69 L107.52,324.50 L108.71,322.68 L109.78,321.10 L110.76,319.66 L111.71,318.30 L112.67,316.94 L113.68,315.50 L114.76,313.98 L115.87,312.44 L116.99,310.90 L118.09,309.37 L119.15,307.87 L120.13,306.40 L121.09,304.89 L122.05,303.30 L122.97,301.73 L123.80,300.29 L124.49,299.08 L125.00,298.20" stroke="#3a8aa8" stroke-width="0.9" stroke-dasharray="1.2 1.2" opacity="0.85"/></g>
<rect x="39.10" y="194.00" width="85.40" height="161.80" fill="none" stroke="#000" stroke-width="1"/>
<rect x="125.00" y="193.50" width="1.6" height="162.80" fill="url(#re)"/>
<rect x="37.60" y="192.20" width="88.60" height="1.3" fill="url(#te)"/>
<rect x="80.10" y="193.5" width="3.80" height="162.80" fill="#000" opacity="0.55"/>
<rect x="81.00" y="193.5" width="2.00" height="162.80" fill="#92908e"/>
<text x="41.8" y="206.8" font-family='"Liberation Sans", sans-serif' font-size="15" letter-spacing="0.4" fill="#ece4e0">(d)</text>
<line x1="37.5" y1="192.7" x2="37.5" y2="357.0" stroke="#555" stroke-width="1"/>
<line x1="37.5" y1="357.0" x2="126.00" y2="357.0" stroke="#888" stroke-width="1"/>
<line x1="29.00" y1="357.00" x2="37.5" y2="357.00" stroke="#444" stroke-width="1"/>
<text x="29.4" y="359.90" text-anchor="end" font-family='"Liberation Sans", sans-serif' font-size="9.3" fill="#1a1a1a" stroke="#1a1a1a" stroke-width="0.2">0</text>
<line x1="33.00" y1="340.57" x2="37.5" y2="340.57" stroke="#444" stroke-width="1"/>
<line x1="29.00" y1="324.14" x2="37.5" y2="324.14" stroke="#444" stroke-width="1"/>
<text x="29.4" y="327.04" text-anchor="end" font-family='"Liberation Sans", sans-serif' font-size="9.3" fill="#1a1a1a" stroke="#1a1a1a" stroke-width="0.2">100</text>
<line x1="33.00" y1="307.71" x2="37.5" y2="307.71" stroke="#444" stroke-width="1"/>
<line x1="29.00" y1="291.28" x2="37.5" y2="291.28" stroke="#444" stroke-width="1"/>
<text x="29.4" y="294.18" text-anchor="end" font-family='"Liberation Sans", sans-serif' font-size="9.3" fill="#1a1a1a" stroke="#1a1a1a" stroke-width="0.2">200</text>
<line x1="33.00" y1="274.85" x2="37.5" y2="274.85" stroke="#444" stroke-width="1"/>
<line x1="29.00" y1="258.42" x2="37.5" y2="258.42" stroke="#444" stroke-width="1"/>
<text x="29.4" y="261.32" text-anchor="end" font-family='"Liberation Sans", sans-serif' font-size="9.3" fill="#1a1a1a" stroke="#1a1a1a" stroke-width="0.2">300</text>
<line x1="33.00" y1="241.99" x2="37.5" y2="241.99" stroke="#444" stroke-width="1"/>
<line x1="29.00" y1="225.56" x2="37.5" y2="225.56" stroke="#444" stroke-width="1"/>
<text x="29.4" y="228.46" text-anchor="end" font-family='"Liberation Sans", sans-serif' font-size="9.3" fill="#1a1a1a" stroke="#1a1a1a" stroke-width="0.2">400</text>
<line x1="33.00" y1="209.13" x2="37.5" y2="209.13" stroke="#444" stroke-width="1"/>
<line x1="29.00" y1="192.70" x2="37.5" y2="192.70" stroke="#444" stroke-width="1"/>
<text x="29.4" y="195.60" text-anchor="end" font-family='"Liberation Sans", sans-serif' font-size="9.3" fill="#1a1a1a" stroke="#1a1a1a" stroke-width="0.2">500</text>
<text x="38.20" y="371.00" text-anchor="middle" font-family='"Liberation Sans", sans-serif' font-size="9.9" fill="#1a1a1a" stroke="#1a1a1a" stroke-width="0.15">X</text>
<line x1="34.70" y1="361.90" x2="41.70" y2="361.90" stroke="#333" stroke-width="0.9"/>
<text x="84.20" y="371.00" text-anchor="middle" font-family='"Liberation Sans", sans-serif' font-size="9.9" fill="#1a1a1a" stroke="#1a1a1a" stroke-width="0.15">Γ</text>
<line x1="80.70" y1="361.90" x2="87.70" y2="361.90" stroke="#333" stroke-width="0.9"/>
<text x="125.50" y="371.00" text-anchor="middle" font-family='"Liberation Sans", sans-serif' font-size="9.9" fill="#1a1a1a" stroke="#1a1a1a" stroke-width="0.15">X</text>
<line x1="122.00" y1="361.90" x2="129.00" y2="361.90" stroke="#333" stroke-width="0.9"/>
<rect x="221.0" y="198.0" width="88.00" height="162.60" fill="#0e0e0e"/>
<rect x="219.90" y="198.0" width="1.2" height="162.60" fill="#8db2c2"/>
<rect x="219.90" y="360.30" width="89.10" height="1.0" fill="#7f9aa6"/>
<g clip-path="url(#cle)" fill="none" stroke-linejoin="round" stroke-linecap="round"><path d="M221.00,249.90 L221.96,249.38 L223.28,248.68 L224.85,247.84 L226.55,246.91 L228.29,245.95 L229.94,245.00 L231.54,244.03 L233.18,243.00 L234.84,241.92 L236.52,240.85 L238.20,239.80 L239.87,238.80 L241.55,237.85 L243.26,236.91 L244.96,236.01 L246.64,235.13 L248.26,234.29 L249.80,233.50 L251.25,232.74 L252.63,232.01 L253.94,231.32 L255.23,230.69 L256.49,230.11 L257.75,229.60 L259.08,229.17 L260.49,228.81 L261.87,228.51 L263.15,228.26 L264.22,228.06 L265.00,227.90 L265.00,227.90 L265.78,228.06 L266.85,228.26 L268.13,228.51 L269.51,228.81 L270.92,229.17 L272.25,229.60 L273.51,230.11 L274.77,230.69 L276.06,231.32 L277.37,232.01 L278.75,232.74 L280.20,233.50 L281.74,234.29 L283.36,235.13 L285.04,236.01 L286.74,236.91 L288.45,237.85 L290.13,238.80 L291.80,239.80 L293.48,240.85 L295.16,241.92 L296.82,243.00 L298.46,244.03 L300.06,245.00 L301.71,245.95 L303.45,246.91 L305.15,247.84 L306.72,248.68 L308.04,249.38 L309.00,249.90" stroke="#2f7394" stroke-width="6.0" opacity="0.55" filter="url(#gl)"/><path d="M221.00,249.90 L221.96,249.38 L223.28,248.68 L224.85,247.84 L226.55,246.91 L228.29,245.95 L229.94,245.00 L231.54,244.03 L233.18,243.00 L234.84,241.92 L236.52,240.85 L238.20,239.80 L239.87,238.80 L241.55,237.85 L243.26,236.91 L244.96,236.01 L246.64,235.13 L248.26,234.29 L249.80,233.50 L251.25,232.74 L252.63,232.01 L253.94,231.32 L255.23,230.69 L256.49,230.11 L257.75,229.60 L259.08,229.17 L260.49,228.81 L261.87,228.51 L263.15,228.26 L264.22,228.06 L265.00,227.90 L265.00,227.90 L265.78,228.06 L266.85,228.26 L268.13,228.51 L269.51,228.81 L270.92,229.17 L272.25,229.60 L273.51,230.11 L274.77,230.69 L276.06,231.32 L277.37,232.01 L278.75,232.74 L280.20,233.50 L281.74,234.29 L283.36,235.13 L285.04,236.01 L286.74,236.91 L288.45,237.85 L290.13,238.80 L291.80,239.80 L293.48,240.85 L295.16,241.92 L296.82,243.00 L298.46,244.03 L300.06,245.00 L301.71,245.95 L303.45,246.91 L305.15,247.84 L306.72,248.68 L308.04,249.38 L309.00,249.90" stroke="#559fc2" stroke-width="4.2" filter="url(#gs)"/><path d="M221.00,249.90 L221.96,249.38 L223.28,248.68 L224.85,247.84 L226.55,246.91 L228.29,245.95 L229.94,245.00 L231.54,244.03 L233.18,243.00 L234.84,241.92 L236.52,240.85 L238.20,239.80 L239.87,238.80 L241.55,237.85 L243.26,236.91 L244.96,236.01 L246.64,235.13 L248.26,234.29 L249.80,233.50 L251.25,232.74 L252.63,232.01 L253.94,231.32 L255.23,230.69 L256.49,230.11 L257.75,229.60 L259.08,229.17 L260.49,228.81 L261.87,228.51 L263.15,228.26 L264.22,228.06 L265.00,227.90 L265.00,227.90 L265.78,228.06 L266.85,228.26 L268.13,228.51 L269.51,228.81 L270.92,229.17 L272.25,229.60 L273.51,230.11 L274.77,230.69 L276.06,231.32 L277.37,232.01 L278.75,232.74 L280.20,233.50 L281.74,234.29 L283.36,235.13 L285.04,236.01 L286.74,236.91 L288.45,237.85 L290.13,238.80 L291.80,239.80 L293.48,240.85 L295.16,241.92 L296.82,243.00 L298.46,244.03 L300.06,245.00 L301.71,245.95 L303.45,246.91 L305.15,247.84 L306.72,248.68 L308.04,249.38 L309.00,249.90" stroke="#9ad4ea" stroke-width="1.3" filter="url(#gs)"/></g>
<g clip-path="url(#cle)" fill="none" stroke-linejoin="round" stroke-linecap="round"><path d="M221.00,279.68 L222.10,279.94 L223.20,280.36 L224.30,280.92 L225.40,281.62 L226.50,282.47 L227.60,283.45 L228.70,284.56 L229.80,285.80 L230.90,287.15 L232.00,288.61 L233.10,290.17 L234.20,291.82 L235.30,293.55 L236.40,295.35 L237.50,297.21 L238.60,299.12 L239.70,301.07 L240.80,303.05 L241.90,305.05 L243.00,307.04 L244.10,309.04 L245.20,311.01 L246.30,312.95 L247.40,314.85 L248.50,316.70 L249.60,318.49 L250.70,320.20 L251.80,321.83 L252.90,323.37 L254.00,324.80 L255.10,326.12 L256.20,327.33 L257.30,328.41 L258.40,329.36 L259.50,330.17 L260.60,330.84 L261.70,331.37 L262.80,331.75 L263.90,331.98 L265.00,332.05 L265.00,332.05 L266.10,331.98 L267.20,331.75 L268.30,331.37 L269.40,330.84 L270.50,330.17 L271.60,329.36 L272.70,328.41 L273.80,327.33 L274.90,326.12 L276.00,324.80 L277.10,323.37 L278.20,321.83 L279.30,320.20 L280.40,318.49 L281.50,316.70 L282.60,314.85 L283.70,312.95 L284.80,311.01 L285.90,309.04 L287.00,307.04 L288.10,305.05 L289.20,303.05 L290.30,301.07 L291.40,299.12 L292.50,297.21 L293.60,295.35 L294.70,293.55 L295.80,291.82 L296.90,290.17 L298.00,288.61 L299.10,287.15 L300.20,285.80 L301.30,284.56 L302.40,283.45 L303.50,282.47 L304.60,281.62 L305.70,280.92 L306.80,280.36 L307.90,279.94 L309.00,279.68" stroke="#2f7394" stroke-width="6.0" opacity="0.55" filter="url(#gl)"/><path d="M221.00,279.68 L222.10,279.94 L223.20,280.36 L224.30,280.92 L225.40,281.62 L226.50,282.47 L227.60,283.45 L228.70,284.56 L229.80,285.80 L230.90,287.15 L232.00,288.61 L233.10,290.17 L234.20,291.82 L235.30,293.55 L236.40,295.35 L237.50,297.21 L238.60,299.12 L239.70,301.07 L240.80,303.05 L241.90,305.05 L243.00,307.04 L244.10,309.04 L245.20,311.01 L246.30,312.95 L247.40,314.85 L248.50,316.70 L249.60,318.49 L250.70,320.20 L251.80,321.83 L252.90,323.37 L254.00,324.80 L255.10,326.12 L256.20,327.33 L257.30,328.41 L258.40,329.36 L259.50,330.17 L260.60,330.84 L261.70,331.37 L262.80,331.75 L263.90,331.98 L265.00,332.05 L265.00,332.05 L266.10,331.98 L267.20,331.75 L268.30,331.37 L269.40,330.84 L270.50,330.17 L271.60,329.36 L272.70,328.41 L273.80,327.33 L274.90,326.12 L276.00,324.80 L277.10,323.37 L278.20,321.83 L279.30,320.20 L280.40,318.49 L281.50,316.70 L282.60,314.85 L283.70,312.95 L284.80,311.01 L285.90,309.04 L287.00,307.04 L288.10,305.05 L289.20,303.05 L290.30,301.07 L291.40,299.12 L292.50,297.21 L293.60,295.35 L294.70,293.55 L295.80,291.82 L296.90,290.17 L298.00,288.61 L299.10,287.15 L300.20,285.80 L301.30,284.56 L302.40,283.45 L303.50,282.47 L304.60,281.62 L305.70,280.92 L306.80,280.36 L307.90,279.94 L309.00,279.68" stroke="#559fc2" stroke-width="4.2" filter="url(#gs)"/><path d="M221.00,279.68 L222.10,279.94 L223.20,280.36 L224.30,280.92 L225.40,281.62 L226.50,282.47 L227.60,283.45 L228.70,284.56 L229.80,285.80 L230.90,287.15 L232.00,288.61 L233.10,290.17 L234.20,291.82 L235.30,293.55 L236.40,295.35 L237.50,297.21 L238.60,299.12 L239.70,301.07 L240.80,303.05 L241.90,305.05 L243.00,307.04 L244.10,309.04 L245.20,311.01 L246.30,312.95 L247.40,314.85 L248.50,316.70 L249.60,318.49 L250.70,320.20 L251.80,321.83 L252.90,323.37 L254.00,324.80 L255.10,326.12 L256.20,327.33 L257.30,328.41 L258.40,329.36 L259.50,330.17 L260.60,330.84 L261.70,331.37 L262.80,331.75 L263.90,331.98 L265.00,332.05 L265.00,332.05 L266.10,331.98 L267.20,331.75 L268.30,331.37 L269.40,330.84 L270.50,330.17 L271.60,329.36 L272.70,328.41 L273.80,327.33 L274.90,326.12 L276.00,324.80 L277.10,323.37 L278.20,321.83 L279.30,320.20 L280.40,318.49 L281.50,316.70 L282.60,314.85 L283.70,312.95 L284.80,311.01 L285.90,309.04 L287.00,307.04 L288.10,305.05 L289.20,303.05 L290.30,301.07 L291.40,299.12 L292.50,297.21 L293.60,295.35 L294.70,293.55 L295.80,291.82 L296.90,290.17 L298.00,288.61 L299.10,287.15 L300.20,285.80 L301.30,284.56 L302.40,283.45 L303.50,282.47 L304.60,281.62 L305.70,280.92 L306.80,280.36 L307.90,279.94 L309.00,279.68" stroke="#9ad4ea" stroke-width="1.3" filter="url(#gs)"/></g>
<g clip-path="url(#cle)" fill="none" stroke-linejoin="round" stroke-linecap="round"><path d="M221.00,311.96 L222.10,312.19 L223.20,312.56 L224.30,313.06 L225.40,313.69 L226.50,314.44 L227.60,315.31 L228.70,316.29 L229.80,317.39 L230.90,318.58 L232.00,319.88 L233.10,321.26 L234.20,322.72 L235.30,324.26 L236.40,325.85 L237.50,327.51 L238.60,329.20 L239.70,330.93 L240.80,332.69 L241.90,334.46 L243.00,336.23 L244.10,337.99 L245.20,339.74 L246.30,341.47 L247.40,343.15 L248.50,344.79 L249.60,346.38 L250.70,347.89 L251.80,349.34 L252.90,350.70 L254.00,351.97 L255.10,353.15 L256.20,354.22 L257.30,355.17 L258.40,356.02 L259.50,356.74 L260.60,357.33 L261.70,357.80 L262.80,358.14 L263.90,358.34 L265.00,358.41 L265.00,358.41 L266.10,358.34 L267.20,358.14 L268.30,357.80 L269.40,357.33 L270.50,356.74 L271.60,356.02 L272.70,355.17 L273.80,354.22 L274.90,353.15 L276.00,351.97 L277.10,350.70 L278.20,349.34 L279.30,347.89 L280.40,346.38 L281.50,344.79 L282.60,343.15 L283.70,341.47 L284.80,339.74 L285.90,337.99 L287.00,336.23 L288.10,334.46 L289.20,332.69 L290.30,330.93 L291.40,329.20 L292.50,327.51 L293.60,325.85 L294.70,324.26 L295.80,322.72 L296.90,321.26 L298.00,319.88 L299.10,318.58 L300.20,317.39 L301.30,316.29 L302.40,315.31 L303.50,314.44 L304.60,313.69 L305.70,313.06 L306.80,312.56 L307.90,312.19 L309.00,311.96" stroke="#2f7394" stroke-width="6.0" opacity="0.55" filter="url(#gl)"/><path d="M221.00,311.96 L222.10,312.19 L223.20,312.56 L224.30,313.06 L225.40,313.69 L226.50,314.44 L227.60,315.31 L228.70,316.29 L229.80,317.39 L230.90,318.58 L232.00,319.88 L233.10,321.26 L234.20,322.72 L235.30,324.26 L236.40,325.85 L237.50,327.51 L238.60,329.20 L239.70,330.93 L240.80,332.69 L241.90,334.46 L243.00,336.23 L244.10,337.99 L245.20,339.74 L246.30,341.47 L247.40,343.15 L248.50,344.79 L249.60,346.38 L250.70,347.89 L251.80,349.34 L252.90,350.70 L254.00,351.97 L255.10,353.15 L256.20,354.22 L257.30,355.17 L258.40,356.02 L259.50,356.74 L260.60,357.33 L261.70,357.80 L262.80,358.14 L263.90,358.34 L265.00,358.41 L265.00,358.41 L266.10,358.34 L267.20,358.14 L268.30,357.80 L269.40,357.33 L270.50,356.74 L271.60,356.02 L272.70,355.17 L273.80,354.22 L274.90,353.15 L276.00,351.97 L277.10,350.70 L278.20,349.34 L279.30,347.89 L280.40,346.38 L281.50,344.79 L282.60,343.15 L283.70,341.47 L284.80,339.74 L285.90,337.99 L287.00,336.23 L288.10,334.46 L289.20,332.69 L290.30,330.93 L291.40,329.20 L292.50,327.51 L293.60,325.85 L294.70,324.26 L295.80,322.72 L296.90,321.26 L298.00,319.88 L299.10,318.58 L300.20,317.39 L301.30,316.29 L302.40,315.31 L303.50,314.44 L304.60,313.69 L305.70,313.06 L306.80,312.56 L307.90,312.19 L309.00,311.96" stroke="#559fc2" stroke-width="4.2" filter="url(#gs)"/><path d="M221.00,311.96 L222.10,312.19 L223.20,312.56 L224.30,313.06 L225.40,313.69 L226.50,314.44 L227.60,315.31 L228.70,316.29 L229.80,317.39 L230.90,318.58 L232.00,319.88 L233.10,321.26 L234.20,322.72 L235.30,324.26 L236.40,325.85 L237.50,327.51 L238.60,329.20 L239.70,330.93 L240.80,332.69 L241.90,334.46 L243.00,336.23 L244.10,337.99 L245.20,339.74 L246.30,341.47 L247.40,343.15 L248.50,344.79 L249.60,346.38 L250.70,347.89 L251.80,349.34 L252.90,350.70 L254.00,351.97 L255.10,353.15 L256.20,354.22 L257.30,355.17 L258.40,356.02 L259.50,356.74 L260.60,357.33 L261.70,357.80 L262.80,358.14 L263.90,358.34 L265.00,358.41 L265.00,358.41 L266.10,358.34 L267.20,358.14 L268.30,357.80 L269.40,357.33 L270.50,356.74 L271.60,356.02 L272.70,355.17 L273.80,354.22 L274.90,353.15 L276.00,351.97 L277.10,350.70 L278.20,349.34 L279.30,347.89 L280.40,346.38 L281.50,344.79 L282.60,343.15 L283.70,341.47 L284.80,339.74 L285.90,337.99 L287.00,336.23 L288.10,334.46 L289.20,332.69 L290.30,330.93 L291.40,329.20 L292.50,327.51 L293.60,325.85 L294.70,324.26 L295.80,322.72 L296.90,321.26 L298.00,319.88 L299.10,318.58 L300.20,317.39 L301.30,316.29 L302.40,315.31 L303.50,314.44 L304.60,313.69 L305.70,313.06 L306.80,312.56 L307.90,312.19 L309.00,311.96" stroke="#9ad4ea" stroke-width="1.3" filter="url(#gs)"/></g>
<rect x="221.50" y="198.50" width="87.00" height="161.60" fill="none" stroke="#000" stroke-width="1"/>
<rect x="309.00" y="198.00" width="1.6" height="162.60" fill="url(#re)"/>
<rect x="220.00" y="196.70" width="90.20" height="1.3" fill="url(#te)"/>
<rect x="263.10" y="198.0" width="3.80" height="162.60" fill="#000" opacity="0.55"/>
<rect x="264.00" y="198.0" width="2.00" height="162.60" fill="#969492"/>
<line x1="221.0" y1="254.6" x2="310.0" y2="254.6" stroke="#c6c62c" stroke-width="1.25" stroke-dasharray="3.9 1.6"/>
<line x1="221.0" y1="276.2" x2="310.0" y2="276.2" stroke="#c6c62c" stroke-width="1.25" stroke-dasharray="3.9 1.6"/>
<text x="224.3" y="270.8" font-family='"Liberation Sans", sans-serif' font-size="11.6" letter-spacing="0.35" fill="#f2ea1a">OMBG</text>
<text x="224.8" y="209.3" font-family='"Liberation Sans", sans-serif' font-size="15" letter-spacing="1.1" fill="#ece4e0">(e)</text>
<line x1="220.4" y1="197.0" x2="220.4" y2="361.7" stroke="#555" stroke-width="1"/>
<line x1="220.4" y1="361.7" x2="310.00" y2="361.7" stroke="#888" stroke-width="1"/>
<line x1="211.90" y1="361.70" x2="220.4" y2="361.70" stroke="#444" stroke-width="1"/>
<text x="212.6" y="364.60" text-anchor="end" font-family='"Liberation Sans", sans-serif' font-size="9.3" fill="#1a1a1a" stroke="#1a1a1a" stroke-width="0.2">0</text>
<line x1="215.90" y1="345.23" x2="220.4" y2="345.23" stroke="#444" stroke-width="1"/>
<line x1="211.90" y1="328.76" x2="220.4" y2="328.76" stroke="#444" stroke-width="1"/>
<text x="212.6" y="331.66" text-anchor="end" font-family='"Liberation Sans", sans-serif' font-size="9.3" fill="#1a1a1a" stroke="#1a1a1a" stroke-width="0.2">100</text>
<line x1="215.90" y1="312.29" x2="220.4" y2="312.29" stroke="#444" stroke-width="1"/>
<line x1="211.90" y1="295.82" x2="220.4" y2="295.82" stroke="#444" stroke-width="1"/>
<text x="212.6" y="298.72" text-anchor="end" font-family='"Liberation Sans", sans-serif' font-size="9.3" fill="#1a1a1a" stroke="#1a1a1a" stroke-width="0.2">200</text>
<line x1="215.90" y1="279.35" x2="220.4" y2="279.35" stroke="#444" stroke-width="1"/>
<line x1="211.90" y1="262.88" x2="220.4" y2="262.88" stroke="#444" stroke-width="1"/>
<text x="212.6" y="265.78" text-anchor="end" font-family='"Liberation Sans", sans-serif' font-size="9.3" fill="#1a1a1a" stroke="#1a1a1a" stroke-width="0.2">300</text>
<line x1="215.90" y1="246.41" x2="220.4" y2="246.41" stroke="#444" stroke-width="1"/>
<line x1="211.90" y1="229.94" x2="220.4" y2="229.94" stroke="#444" stroke-width="1"/>
<text x="212.6" y="232.84" text-anchor="end" font-family='"Liberation Sans", sans-serif' font-size="9.3" fill="#1a1a1a" stroke="#1a1a1a" stroke-width="0.2">400</text>
<line x1="215.90" y1="213.47" x2="220.4" y2="213.47" stroke="#444" stroke-width="1"/>
<line x1="211.90" y1="197.00" x2="220.4" y2="197.00" stroke="#444" stroke-width="1"/>
<text x="212.6" y="199.90" text-anchor="end" font-family='"Liberation Sans", sans-serif' font-size="9.3" fill="#1a1a1a" stroke="#1a1a1a" stroke-width="0.2">500</text>
<text x="221.00" y="374.00" text-anchor="middle" font-family='"Liberation Sans", sans-serif' font-size="9.9" fill="#1a1a1a" stroke="#1a1a1a" stroke-width="0.15">X</text>
<line x1="217.50" y1="364.90" x2="224.50" y2="364.90" stroke="#333" stroke-width="0.9"/>
<text x="266.80" y="374.00" text-anchor="middle" font-family='"Liberation Sans", sans-serif' font-size="9.9" fill="#1a1a1a" stroke="#1a1a1a" stroke-width="0.15">Γ</text>
<line x1="263.30" y1="364.90" x2="270.30" y2="364.90" stroke="#333" stroke-width="0.9"/>
<text x="308.60" y="374.00" text-anchor="middle" font-family='"Liberation Sans", sans-serif' font-size="9.9" fill="#1a1a1a" stroke="#1a1a1a" stroke-width="0.15">X</text>
<line x1="305.10" y1="364.90" x2="312.10" y2="364.90" stroke="#333" stroke-width="0.9"/>
<rect x="405.0" y="196.2" width="86.80" height="163.60" fill="#0e0e0e"/>
<rect x="403.90" y="196.2" width="1.2" height="163.60" fill="#8db2c2"/>
<rect x="403.90" y="359.50" width="87.90" height="1.0" fill="#7f9aa6"/>
<g clip-path="url(#clf)" fill="none" stroke-linejoin="round" stroke-linecap="round"><path d="M405.00,227.00 L406.10,226.56 L407.62,225.97 L409.42,225.26 L411.35,224.46 L413.26,223.59 L415.00,222.70 L416.61,221.76 L418.22,220.73 L419.81,219.65 L421.36,218.52 L422.86,217.37 L424.30,216.20 L425.68,214.99 L427.00,213.70 L428.28,212.39 L429.51,211.10 L430.68,209.85 L431.80,208.70 L432.84,207.63 L433.81,206.62 L434.72,205.66 L435.60,204.76 L436.49,203.90 L437.40,203.10 L438.33,202.34 L439.27,201.62 L440.20,200.96 L441.13,200.36 L442.07,199.83 L443.00,199.40 L444.00,199.08 L445.07,198.86 L446.15,198.72 L447.15,198.63 L447.99,198.57 L448.60,198.50 L448.60,198.50 L449.20,198.57 L450.04,198.63 L451.03,198.72 L452.09,198.86 L453.16,199.08 L454.15,199.40 L455.07,199.83 L456.00,200.36 L456.92,200.96 L457.85,201.62 L458.77,202.34 L459.70,203.10 L460.60,203.90 L461.48,204.76 L462.35,205.66 L463.26,206.62 L464.21,207.63 L465.25,208.70 L466.35,209.85 L467.52,211.10 L468.73,212.39 L470.00,213.70 L471.31,214.99 L472.68,216.20 L474.10,217.37 L475.59,218.52 L477.13,219.65 L478.70,220.73 L480.30,221.76 L481.89,222.70 L483.62,223.59 L485.51,224.46 L487.42,225.26 L489.21,225.97 L490.71,226.56 L491.80,227.00" stroke="#3a8db0" stroke-width="4.6" opacity="0.6" filter="url(#gl)"/><path d="M405.00,227.00 L406.10,226.56 L407.62,225.97 L409.42,225.26 L411.35,224.46 L413.26,223.59 L415.00,222.70 L416.61,221.76 L418.22,220.73 L419.81,219.65 L421.36,218.52 L422.86,217.37 L424.30,216.20 L425.68,214.99 L427.00,213.70 L428.28,212.39 L429.51,211.10 L430.68,209.85 L431.80,208.70 L432.84,207.63 L433.81,206.62 L434.72,205.66 L435.60,204.76 L436.49,203.90 L437.40,203.10 L438.33,202.34 L439.27,201.62 L440.20,200.96 L441.13,200.36 L442.07,199.83 L443.00,199.40 L444.00,199.08 L445.07,198.86 L446.15,198.72 L447.15,198.63 L447.99,198.57 L448.60,198.50 L448.60,198.50 L449.20,198.57 L450.04,198.63 L451.03,198.72 L452.09,198.86 L453.16,199.08 L454.15,199.40 L455.07,199.83 L456.00,200.36 L456.92,200.96 L457.85,201.62 L458.77,202.34 L459.70,203.10 L460.60,203.90 L461.48,204.76 L462.35,205.66 L463.26,206.62 L464.21,207.63 L465.25,208.70 L466.35,209.85 L467.52,211.10 L468.73,212.39 L470.00,213.70 L471.31,214.99 L472.68,216.20 L474.10,217.37 L475.59,218.52 L477.13,219.65 L478.70,220.73 L480.30,221.76 L481.89,222.70 L483.62,223.59 L485.51,224.46 L487.42,225.26 L489.21,225.97 L490.71,226.56 L491.80,227.00" stroke="#86cfe9" stroke-width="2.9" filter="url(#gs)"/><path d="M405.00,227.00 L406.10,226.56 L407.62,225.97 L409.42,225.26 L411.35,224.46 L413.26,223.59 L415.00,222.70 L416.61,221.76 L418.22,220.73 L419.81,219.65 L421.36,218.52 L422.86,217.37 L424.30,216.20 L425.68,214.99 L427.00,213.70 L428.28,212.39 L429.51,211.10 L430.68,209.85 L431.80,208.70 L432.84,207.63 L433.81,206.62 L434.72,205.66 L435.60,204.76 L436.49,203.90 L437.40,203.10 L438.33,202.34 L439.27,201.62 L440.20,200.96 L441.13,200.36 L442.07,199.83 L443.00,199.40 L444.00,199.08 L445.07,198.86 L446.15,198.72 L447.15,198.63 L447.99,198.57 L448.60,198.50 L448.60,198.50 L449.20,198.57 L450.04,198.63 L451.03,198.72 L452.09,198.86 L453.16,199.08 L454.15,199.40 L455.07,199.83 L456.00,200.36 L456.92,200.96 L457.85,201.62 L458.77,202.34 L459.70,203.10 L460.60,203.90 L461.48,204.76 L462.35,205.66 L463.26,206.62 L464.21,207.63 L465.25,208.70 L466.35,209.85 L467.52,211.10 L468.73,212.39 L470.00,213.70 L471.31,214.99 L472.68,216.20 L474.10,217.37 L475.59,218.52 L477.13,219.65 L478.70,220.73 L480.30,221.76 L481.89,222.70 L483.62,223.59 L485.51,224.46 L487.42,225.26 L489.21,225.97 L490.71,226.56 L491.80,227.00" stroke="#3a8aa8" stroke-width="0.9" stroke-dasharray="1.2 1.2" opacity="0.85"/></g>
<g clip-path="url(#clf)" fill="none" stroke-linejoin="round" stroke-linecap="round"><path d="M405.00,249.49 L406.09,249.66 L407.18,249.93 L408.27,250.29 L409.36,250.74 L410.45,251.29 L411.54,251.92 L412.63,252.63 L413.72,253.43 L414.81,254.30 L415.90,255.23 L416.99,256.24 L418.08,257.30 L419.17,258.41 L420.26,259.57 L421.35,260.77 L422.44,262.00 L423.53,263.25 L424.62,264.52 L425.71,265.80 L426.80,267.09 L427.89,268.37 L428.98,269.64 L430.07,270.89 L431.16,272.11 L432.25,273.30 L433.34,274.45 L434.43,275.55 L435.52,276.60 L436.61,277.59 L437.70,278.51 L438.79,279.36 L439.88,280.13 L440.97,280.83 L442.06,281.44 L443.15,281.96 L444.24,282.40 L445.33,282.73 L446.42,282.98 L447.51,283.12 L448.60,283.17 L448.60,283.17 L449.68,283.12 L450.76,282.98 L451.84,282.73 L452.92,282.40 L454.00,281.96 L455.08,281.44 L456.16,280.83 L457.24,280.13 L458.32,279.36 L459.40,278.51 L460.48,277.59 L461.56,276.60 L462.64,275.55 L463.72,274.45 L464.80,273.30 L465.88,272.11 L466.96,270.89 L468.04,269.64 L469.12,268.37 L470.20,267.09 L471.28,265.80 L472.36,264.52 L473.44,263.25 L474.52,262.00 L475.60,260.77 L476.68,259.57 L477.76,258.41 L478.84,257.30 L479.92,256.24 L481.00,255.23 L482.08,254.30 L483.16,253.43 L484.24,252.63 L485.32,251.92 L486.40,251.29 L487.48,250.74 L488.56,250.29 L489.64,249.93 L490.72,249.66 L491.80,249.49" stroke="#3a8db0" stroke-width="4.6" opacity="0.6" filter="url(#gl)"/><path d="M405.00,249.49 L406.09,249.66 L407.18,249.93 L408.27,250.29 L409.36,250.74 L410.45,251.29 L411.54,251.92 L412.63,252.63 L413.72,253.43 L414.81,254.30 L415.90,255.23 L416.99,256.24 L418.08,257.30 L419.17,258.41 L420.26,259.57 L421.35,260.77 L422.44,262.00 L423.53,263.25 L424.62,264.52 L425.71,265.80 L426.80,267.09 L427.89,268.37 L428.98,269.64 L430.07,270.89 L431.16,272.11 L432.25,273.30 L433.34,274.45 L434.43,275.55 L435.52,276.60 L436.61,277.59 L437.70,278.51 L438.79,279.36 L439.88,280.13 L440.97,280.83 L442.06,281.44 L443.15,281.96 L444.24,282.40 L445.33,282.73 L446.42,282.98 L447.51,283.12 L448.60,283.17 L448.60,283.17 L449.68,283.12 L450.76,282.98 L451.84,282.73 L452.92,282.40 L454.00,281.96 L455.08,281.44 L456.16,280.83 L457.24,280.13 L458.32,279.36 L459.40,278.51 L460.48,277.59 L461.56,276.60 L462.64,275.55 L463.72,274.45 L464.80,273.30 L465.88,272.11 L466.96,270.89 L468.04,269.64 L469.12,268.37 L470.20,267.09 L471.28,265.80 L472.36,264.52 L473.44,263.25 L474.52,262.00 L475.60,260.77 L476.68,259.57 L477.76,258.41 L478.84,257.30 L479.92,256.24 L481.00,255.23 L482.08,254.30 L483.16,253.43 L484.24,252.63 L485.32,251.92 L486.40,251.29 L487.48,250.74 L488.56,250.29 L489.64,249.93 L490.72,249.66 L491.80,249.49" stroke="#86cfe9" stroke-width="2.9" filter="url(#gs)"/><path d="M405.00,249.49 L406.09,249.66 L407.18,249.93 L408.27,250.29 L409.36,250.74 L410.45,251.29 L411.54,251.92 L412.63,252.63 L413.72,253.43 L414.81,254.30 L415.90,255.23 L416.99,256.24 L418.08,257.30 L419.17,258.41 L420.26,259.57 L421.35,260.77 L422.44,262.00 L423.53,263.25 L424.62,264.52 L425.71,265.80 L426.80,267.09 L427.89,268.37 L428.98,269.64 L430.07,270.89 L431.16,272.11 L432.25,273.30 L433.34,274.45 L434.43,275.55 L435.52,276.60 L436.61,277.59 L437.70,278.51 L438.79,279.36 L439.88,280.13 L440.97,280.83 L442.06,281.44 L443.15,281.96 L444.24,282.40 L445.33,282.73 L446.42,282.98 L447.51,283.12 L448.60,283.17 L448.60,283.17 L449.68,283.12 L450.76,282.98 L451.84,282.73 L452.92,282.40 L454.00,281.96 L455.08,281.44 L456.16,280.83 L457.24,280.13 L458.32,279.36 L459.40,278.51 L460.48,277.59 L461.56,276.60 L462.64,275.55 L463.72,274.45 L464.80,273.30 L465.88,272.11 L466.96,270.89 L468.04,269.64 L469.12,268.37 L470.20,267.09 L471.28,265.80 L472.36,264.52 L473.44,263.25 L474.52,262.00 L475.60,260.77 L476.68,259.57 L477.76,258.41 L478.84,257.30 L479.92,256.24 L481.00,255.23 L482.08,254.30 L483.16,253.43 L484.24,252.63 L485.32,251.92 L486.40,251.29 L487.48,250.74 L488.56,250.29 L489.64,249.93 L490.72,249.66 L491.80,249.49" stroke="#3a8aa8" stroke-width="0.9" stroke-dasharray="1.2 1.2" opacity="0.85"/></g>
<g clip-path="url(#clf)" fill="none" stroke-linejoin="round" stroke-linecap="round"><path d="M405.00,264.68 L406.09,265.03 L407.18,265.58 L408.27,266.33 L409.36,267.27 L410.45,268.39 L411.54,269.70 L412.63,271.18 L413.72,272.82 L414.81,274.62 L415.90,276.56 L416.99,278.63 L418.08,280.83 L419.17,283.13 L420.26,285.52 L421.35,288.00 L422.44,290.55 L423.53,293.14 L424.62,295.77 L425.71,298.43 L426.80,301.08 L427.89,303.73 L428.98,306.36 L430.07,308.94 L431.16,311.47 L432.25,313.93 L433.34,316.31 L434.43,318.59 L435.52,320.75 L436.61,322.80 L437.70,324.70 L438.79,326.46 L439.88,328.07 L440.97,329.51 L442.06,330.77 L443.15,331.85 L444.24,332.75 L445.33,333.45 L446.42,333.95 L447.51,334.25 L448.60,334.35 L448.60,334.35 L449.68,334.25 L450.76,333.95 L451.84,333.45 L452.92,332.75 L454.00,331.85 L455.08,330.77 L456.16,329.51 L457.24,328.07 L458.32,326.46 L459.40,324.70 L460.48,322.80 L461.56,320.75 L462.64,318.59 L463.72,316.31 L464.80,313.93 L465.88,311.47 L466.96,308.94 L468.04,306.36 L469.12,303.73 L470.20,301.08 L471.28,298.43 L472.36,295.77 L473.44,293.14 L474.52,290.55 L475.60,288.00 L476.68,285.52 L477.76,283.13 L478.84,280.83 L479.92,278.63 L481.00,276.56 L482.08,274.62 L483.16,272.82 L484.24,271.18 L485.32,269.70 L486.40,268.39 L487.48,267.27 L488.56,266.33 L489.64,265.58 L490.72,265.03 L491.80,264.68" stroke="#3a8db0" stroke-width="3.4" opacity="0.6" filter="url(#gl)"/><path d="M405.00,264.68 L406.09,265.03 L407.18,265.58 L408.27,266.33 L409.36,267.27 L410.45,268.39 L411.54,269.70 L412.63,271.18 L413.72,272.82 L414.81,274.62 L415.90,276.56 L416.99,278.63 L418.08,280.83 L419.17,283.13 L420.26,285.52 L421.35,288.00 L422.44,290.55 L423.53,293.14 L424.62,295.77 L425.71,298.43 L426.80,301.08 L427.89,303.73 L428.98,306.36 L430.07,308.94 L431.16,311.47 L432.25,313.93 L433.34,316.31 L434.43,318.59 L435.52,320.75 L436.61,322.80 L437.70,324.70 L438.79,326.46 L439.88,328.07 L440.97,329.51 L442.06,330.77 L443.15,331.85 L444.24,332.75 L445.33,333.45 L446.42,333.95 L447.51,334.25 L448.60,334.35 L448.60,334.35 L449.68,334.25 L450.76,333.95 L451.84,333.45 L452.92,332.75 L454.00,331.85 L455.08,330.77 L456.16,329.51 L457.24,328.07 L458.32,326.46 L459.40,324.70 L460.48,322.80 L461.56,320.75 L462.64,318.59 L463.72,316.31 L464.80,313.93 L465.88,311.47 L466.96,308.94 L468.04,306.36 L469.12,303.73 L470.20,301.08 L471.28,298.43 L472.36,295.77 L473.44,293.14 L474.52,290.55 L475.60,288.00 L476.68,285.52 L477.76,283.13 L478.84,280.83 L479.92,278.63 L481.00,276.56 L482.08,274.62 L483.16,272.82 L484.24,271.18 L485.32,269.70 L486.40,268.39 L487.48,267.27 L488.56,266.33 L489.64,265.58 L490.72,265.03 L491.80,264.68" stroke="#8ed2ea" stroke-width="1.7" filter="url(#gs)"/><path d="M405.00,264.68 L406.09,265.03 L407.18,265.58 L408.27,266.33 L409.36,267.27 L410.45,268.39 L411.54,269.70 L412.63,271.18 L413.72,272.82 L414.81,274.62 L415.90,276.56 L416.99,278.63 L418.08,280.83 L419.17,283.13 L420.26,285.52 L421.35,288.00 L422.44,290.55 L423.53,293.14 L424.62,295.77 L425.71,298.43 L426.80,301.08 L427.89,303.73 L428.98,306.36 L430.07,308.94 L431.16,311.47 L432.25,313.93 L433.34,316.31 L434.43,318.59 L435.52,320.75 L436.61,322.80 L437.70,324.70 L438.79,326.46 L439.88,328.07 L440.97,329.51 L442.06,330.77 L443.15,331.85 L444.24,332.75 L445.33,333.45 L446.42,333.95 L447.51,334.25 L448.60,334.35 L448.60,334.35 L449.68,334.25 L450.76,333.95 L451.84,333.45 L452.92,332.75 L454.00,331.85 L455.08,330.77 L456.16,329.51 L457.24,328.07 L458.32,326.46 L459.40,324.70 L460.48,322.80 L461.56,320.75 L462.64,318.59 L463.72,316.31 L464.80,313.93 L465.88,311.47 L466.96,308.94 L468.04,306.36 L469.12,303.73 L470.20,301.08 L471.28,298.43 L472.36,295.77 L473.44,293.14 L474.52,290.55 L475.60,288.00 L476.68,285.52 L477.76,283.13 L478.84,280.83 L479.92,278.63 L481.00,276.56 L482.08,274.62 L483.16,272.82 L484.24,271.18 L485.32,269.70 L486.40,268.39 L487.48,267.27 L488.56,266.33 L489.64,265.58 L490.72,265.03 L491.80,264.68" stroke="#c8eef9" stroke-width="0.6" opacity="0.7"/></g>
<g clip-path="url(#clf)" fill="none" stroke-linejoin="round" stroke-linecap="round"><path d="M405.00,301.66 L405.79,301.74 L406.90,301.82 L408.21,301.93 L409.58,302.11 L410.88,302.37 L411.98,302.77 L412.87,303.30 L413.66,303.94 L414.38,304.67 L415.07,305.49 L415.75,306.36 L416.47,307.29 L417.20,308.26 L417.94,309.30 L418.67,310.40 L419.40,311.56 L420.13,312.79 L420.87,314.07 L421.61,315.43 L422.36,316.86 L423.11,318.36 L423.86,319.90 L424.61,321.47 L425.36,323.06 L426.11,324.68 L426.86,326.34 L427.60,328.03 L428.35,329.74 L429.10,331.45 L429.85,333.15 L430.61,334.86 L431.36,336.61 L432.12,338.36 L432.88,340.08 L433.63,341.74 L434.39,343.30 L435.14,344.78 L435.88,346.22 L436.63,347.59 L437.38,348.89 L438.13,350.09 L438.88,351.18 L439.62,352.17 L440.36,353.07 L441.10,353.87 L441.85,354.58 L442.62,355.19 L443.41,355.70 L444.30,356.10 L445.28,356.37 L446.29,356.54 L447.23,356.65 L448.03,356.73 L448.60,356.81 L448.60,356.81 L449.17,356.73 L449.96,356.65 L450.89,356.54 L451.88,356.37 L452.86,356.10 L453.74,355.70 L454.53,355.19 L455.29,354.58 L456.03,353.87 L456.76,353.07 L457.49,352.17 L458.23,351.18 L458.98,350.09 L459.72,348.89 L460.46,347.59 L461.20,346.22 L461.94,344.78 L462.68,343.30 L463.43,341.74 L464.18,340.08 L464.93,338.36 L465.68,336.61 L466.43,334.86 L467.18,333.15 L467.92,331.45 L468.66,329.74 L469.40,328.03 L470.14,326.34 L470.88,324.68 L471.63,323.06 L472.37,321.47 L473.11,319.90 L473.86,318.36 L474.60,316.86 L475.34,315.43 L476.08,314.07 L476.81,312.79 L477.53,311.56 L478.26,310.40 L478.98,309.30 L479.71,308.26 L480.44,307.29 L481.15,306.36 L481.82,305.49 L482.50,304.67 L483.22,303.94 L484.00,303.30 L484.89,302.77 L485.98,302.37 L487.27,302.11 L488.62,301.93 L489.92,301.82 L491.02,301.74 L491.80,301.66" stroke="#3a8db0" stroke-width="4.6" opacity="0.6" filter="url(#gl)"/><path d="M405.00,301.66 L405.79,301.74 L406.90,301.82 L408.21,301.93 L409.58,302.11 L410.88,302.37 L411.98,302.77 L412.87,303.30 L413.66,303.94 L414.38,304.67 L415.07,305.49 L415.75,306.36 L416.47,307.29 L417.20,308.26 L417.94,309.30 L418.67,310.40 L419.40,311.56 L420.13,312.79 L420.87,314.07 L421.61,315.43 L422.36,316.86 L423.11,318.36 L423.86,319.90 L424.61,321.47 L425.36,323.06 L426.11,324.68 L426.86,326.34 L427.60,328.03 L428.35,329.74 L429.10,331.45 L429.85,333.15 L430.61,334.86 L431.36,336.61 L432.12,338.36 L432.88,340.08 L433.63,341.74 L434.39,343.30 L435.14,344.78 L435.88,346.22 L436.63,347.59 L437.38,348.89 L438.13,350.09 L438.88,351.18 L439.62,352.17 L440.36,353.07 L441.10,353.87 L441.85,354.58 L442.62,355.19 L443.41,355.70 L444.30,356.10 L445.28,356.37 L446.29,356.54 L447.23,356.65 L448.03,356.73 L448.60,356.81 L448.60,356.81 L449.17,356.73 L449.96,356.65 L450.89,356.54 L451.88,356.37 L452.86,356.10 L453.74,355.70 L454.53,355.19 L455.29,354.58 L456.03,353.87 L456.76,353.07 L457.49,352.17 L458.23,351.18 L458.98,350.09 L459.72,348.89 L460.46,347.59 L461.20,346.22 L461.94,344.78 L462.68,343.30 L463.43,341.74 L464.18,340.08 L464.93,338.36 L465.68,336.61 L466.43,334.86 L467.18,333.15 L467.92,331.45 L468.66,329.74 L469.40,328.03 L470.14,326.34 L470.88,324.68 L471.63,323.06 L472.37,321.47 L473.11,319.90 L473.86,318.36 L474.60,316.86 L475.34,315.43 L476.08,314.07 L476.81,312.79 L477.53,311.56 L478.26,310.40 L478.98,309.30 L479.71,308.26 L480.44,307.29 L481.15,306.36 L481.82,305.49 L482.50,304.67 L483.22,303.94 L484.00,303.30 L484.89,302.77 L485.98,302.37 L487.27,302.11 L488.62,301.93 L489.92,301.82 L491.02,301.74 L491.80,301.66" stroke="#86cfe9" stroke-width="2.9" filter="url(#gs)"/><path d="M405.00,301.66 L405.79,301.74 L406.90,301.82 L408.21,301.93 L409.58,302.11 L410.88,302.37 L411.98,302.77 L412.87,303.30 L413.66,303.94 L414.38,304.67 L415.07,305.49 L415.75,306.36 L416.47,307.29 L417.20,308.26 L417.94,309.30 L418.67,310.40 L419.40,311.56 L420.13,312.79 L420.87,314.07 L421.61,315.43 L422.36,316.86 L423.11,318.36 L423.86,319.90 L424.61,321.47 L425.36,323.06 L426.11,324.68 L426.86,326.34 L427.60,328.03 L428.35,329.74 L429.10,331.45 L429.85,333.15 L430.61,334.86 L431.36,336.61 L432.12,338.36 L432.88,340.08 L433.63,341.74 L434.39,343.30 L435.14,344.78 L435.88,346.22 L436.63,347.59 L437.38,348.89 L438.13,350.09 L438.88,351.18 L439.62,352.17 L440.36,353.07 L441.10,353.87 L441.85,354.58 L442.62,355.19 L443.41,355.70 L444.30,356.10 L445.28,356.37 L446.29,356.54 L447.23,356.65 L448.03,356.73 L448.60,356.81 L448.60,356.81 L449.17,356.73 L449.96,356.65 L450.89,356.54 L451.88,356.37 L452.86,356.10 L453.74,355.70 L454.53,355.19 L455.29,354.58 L456.03,353.87 L456.76,353.07 L457.49,352.17 L458.23,351.18 L458.98,350.09 L459.72,348.89 L460.46,347.59 L461.20,346.22 L461.94,344.78 L462.68,343.30 L463.43,341.74 L464.18,340.08 L464.93,338.36 L465.68,336.61 L466.43,334.86 L467.18,333.15 L467.92,331.45 L468.66,329.74 L469.40,328.03 L470.14,326.34 L470.88,324.68 L471.63,323.06 L472.37,321.47 L473.11,319.90 L473.86,318.36 L474.60,316.86 L475.34,315.43 L476.08,314.07 L476.81,312.79 L477.53,311.56 L478.26,310.40 L478.98,309.30 L479.71,308.26 L480.44,307.29 L481.15,306.36 L481.82,305.49 L482.50,304.67 L483.22,303.94 L484.00,303.30 L484.89,302.77 L485.98,302.37 L487.27,302.11 L488.62,301.93 L489.92,301.82 L491.02,301.74 L491.80,301.66" stroke="#3a8aa8" stroke-width="0.9" stroke-dasharray="1.2 1.2" opacity="0.85"/></g>
<rect x="405.50" y="196.70" width="85.80" height="162.60" fill="none" stroke="#000" stroke-width="1"/>
<rect x="491.80" y="196.20" width="1.6" height="163.60" fill="url(#re)"/>
<rect x="404.00" y="194.90" width="89.00" height="1.3" fill="url(#te)"/>
<rect x="446.95" y="196.2" width="3.30" height="163.60" fill="#000" opacity="0.55"/>
<rect x="447.85" y="196.2" width="1.50" height="163.60" fill="#c2bebb"/>
<line x1="405.0" y1="231.8" x2="494.0" y2="231.8" stroke="#c6c62c" stroke-width="1.25" stroke-dasharray="3.9 1.6"/>
<line x1="405.0" y1="248.3" x2="494.0" y2="248.3" stroke="#c6c62c" stroke-width="1.25" stroke-dasharray="3.9 1.6"/>
<text x="406.5" y="242.8" font-family='"Liberation Sans", sans-serif' font-size="11.6" letter-spacing="0.35" fill="#f2ea1a">OMBG</text>
<text x="407.2" y="208.3" font-family='"Liberation Sans", sans-serif' font-size="15" letter-spacing="0.0" fill="#ece4e0">(f)</text>
<line x1="404.0" y1="196.0" x2="404.0" y2="361.1" stroke="#555" stroke-width="1"/>
<line x1="404.0" y1="361.1" x2="492.80" y2="361.1" stroke="#888" stroke-width="1"/>
<line x1="395.50" y1="361.10" x2="404.0" y2="361.10" stroke="#444" stroke-width="1"/>
<text x="396.0" y="364.00" text-anchor="end" font-family='"Liberation Sans", sans-serif' font-size="9.3" fill="#1a1a1a" stroke="#1a1a1a" stroke-width="0.2">0</text>
<line x1="399.50" y1="344.59" x2="404.0" y2="344.59" stroke="#444" stroke-width="1"/>
<line x1="395.50" y1="328.08" x2="404.0" y2="328.08" stroke="#444" stroke-width="1"/>
<text x="396.0" y="330.98" text-anchor="end" font-family='"Liberation Sans", sans-serif' font-size="9.3" fill="#1a1a1a" stroke="#1a1a1a" stroke-width="0.2">100</text>
<line x1="399.50" y1="311.57" x2="404.0" y2="311.57" stroke="#444" stroke-width="1"/>
<line x1="395.50" y1="295.06" x2="404.0" y2="295.06" stroke="#444" stroke-width="1"/>
<text x="396.0" y="297.96" text-anchor="end" font-family='"Liberation Sans", sans-serif' font-size="9.3" fill="#1a1a1a" stroke="#1a1a1a" stroke-width="0.2">200</text>
<line x1="399.50" y1="278.55" x2="404.0" y2="278.55" stroke="#444" stroke-width="1"/>
<line x1="395.50" y1="262.04" x2="404.0" y2="262.04" stroke="#444" stroke-width="1"/>
<text x="396.0" y="264.94" text-anchor="end" font-family='"Liberation Sans", sans-serif' font-size="9.3" fill="#1a1a1a" stroke="#1a1a1a" stroke-width="0.2">300</text>
<line x1="399.50" y1="245.53" x2="404.0" y2="245.53" stroke="#444" stroke-width="1"/>
<line x1="395.50" y1="229.02" x2="404.0" y2="229.02" stroke="#444" stroke-width="1"/>
<text x="396.0" y="231.92" text-anchor="end" font-family='"Liberation Sans", sans-serif' font-size="9.3" fill="#1a1a1a" stroke="#1a1a1a" stroke-width="0.2">400</text>
<line x1="399.50" y1="212.51" x2="404.0" y2="212.51" stroke="#444" stroke-width="1"/>
<line x1="395.50" y1="196.00" x2="404.0" y2="196.00" stroke="#444" stroke-width="1"/>
<text x="396.0" y="198.90" text-anchor="end" font-family='"Liberation Sans", sans-serif' font-size="9.3" fill="#1a1a1a" stroke="#1a1a1a" stroke-width="0.2">500</text>
<text x="405.00" y="372.00" text-anchor="middle" font-family='"Liberation Sans", sans-serif' font-size="9.9" fill="#1a1a1a" stroke="#1a1a1a" stroke-width="0.15">X</text>
<line x1="401.50" y1="362.90" x2="408.50" y2="362.90" stroke="#333" stroke-width="0.9"/>
<text x="450.50" y="372.00" text-anchor="middle" font-family='"Liberation Sans", sans-serif' font-size="9.9" fill="#1a1a1a" stroke="#1a1a1a" stroke-width="0.15">Γ</text>
<line x1="447.00" y1="362.90" x2="454.00" y2="362.90" stroke="#333" stroke-width="0.9"/>
<text x="491.80" y="372.00" text-anchor="middle" font-family='"Liberation Sans", sans-serif' font-size="9.9" fill="#1a1a1a" stroke="#1a1a1a" stroke-width="0.15">X</text>
<line x1="488.30" y1="362.90" x2="495.30" y2="362.90" stroke="#333" stroke-width="0.9"/>
<text transform="translate(8.4,79.0) rotate(-90)" text-anchor="middle" font-family='"Liberation Sans", sans-serif' font-size="10.5" fill="#222">Magnon Energy (meV)</text>
<text transform="translate(8.4,274.2) rotate(-90)" text-anchor="middle" font-family='"Liberation Sans", sans-serif' font-size="10.5" fill="#222">Magnon Energy (meV)</text>
<g filter="url(#bl)">
<clipPath id="sc138_27"><rect x="130.8" y="24.9" width="48.0" height="87.6"/></clipPath>
<g clip-path="url(#sc138_27)">
<g stroke="#555" stroke-width="0.6">
<clipPath id="bb138_27"><rect x="137.8" y="32.0" width="31.5" height="84.5"/></clipPath>
<g clip-path="url(#bb138_27)">
<line x1="50.3" y1="32.0" x2="134.8" y2="116.5"/>
<line x1="134.8" y1="32.0" x2="50.3" y2="116.5"/>
<line x1="57.3" y1="32.0" x2="141.8" y2="116.5"/>
<line x1="141.8" y1="32.0" x2="57.3" y2="116.5"/>
<line x1="64.3" y1="32.0" x2="148.8" y2="116.5"/>
<line x1="148.8" y1="32.0" x2="64.3" y2="116.5"/>
<line x1="71.3" y1="32.0" x2="155.8" y2="116.5"/>
<line x1="155.8" y1="32.0" x2="71.3" y2="116.5"/>
<line x1="78.3" y1="32.0" x2="162.8" y2="116.5"/>
<line x1="162.8" y1="32.0" x2="78.3" y2="116.5"/>
<line x1="85.3" y1="32.0" x2="169.8" y2="116.5"/>
<line x1="169.8" y1="32.0" x2="85.3" y2="116.5"/>
<line x1="92.3" y1="32.0" x2="176.8" y2="116.5"/>
<line x1="176.8" y1="32.0" x2="92.3" y2="116.5"/>
<line x1="99.3" y1="32.0" x2="183.8" y2="116.5"/>
<line x1="183.8" y1="32.0" x2="99.3" y2="116.5"/>
<line x1="106.3" y1="32.0" x2="190.8" y2="116.5"/>
<line x1="190.8" y1="32.0" x2="106.3" y2="116.5"/>
<line x1="113.3" y1="32.0" x2="197.8" y2="116.5"/>
<line x1="197.8" y1="32.0" x2="113.3" y2="116.5"/>
<line x1="120.3" y1="32.0" x2="204.8" y2="116.5"/>
<line x1="204.8" y1="32.0" x2="120.3" y2="116.5"/>
<line x1="127.3" y1="32.0" x2="211.8" y2="116.5"/>
<line x1="211.8" y1="32.0" x2="127.3" y2="116.5"/>
<line x1="134.3" y1="32.0" x2="218.8" y2="116.5"/>
<line x1="218.8" y1="32.0" x2="134.3" y2="116.5"/>
<line x1="141.3" y1="32.0" x2="225.8" y2="116.5"/>
<line x1="225.8" y1="32.0" x2="141.3" y2="116.5"/>
<line x1="148.3" y1="32.0" x2="232.8" y2="116.5"/>
<line x1="232.8" y1="32.0" x2="148.3" y2="116.5"/>
<line x1="155.3" y1="32.0" x2="239.8" y2="116.5"/>
<line x1="239.8" y1="32.0" x2="155.3" y2="116.5"/>
<line x1="162.3" y1="32.0" x2="246.8" y2="116.5"/>
<line x1="246.8" y1="32.0" x2="162.3" y2="116.5"/>
<line x1="169.3" y1="32.0" x2="253.8" y2="116.5"/>
<line x1="253.8" y1="32.0" x2="169.3" y2="116.5"/>
</g></g>
<ellipse cx="156.30" cy="107.60" rx="4.45" ry="4.10" fill="url(#ir)"/>
<ellipse cx="141.10" cy="109.40" rx="4.45" ry="4.10" fill="url(#ir)"/>
<ellipse cx="151.60" cy="109.90" rx="4.45" ry="4.10" fill="url(#ir)"/>
<ellipse cx="166.80" cy="109.40" rx="4.45" ry="4.10" fill="url(#ir)"/>
<ellipse cx="144.60" cy="96.90" rx="4.45" ry="4.10" fill="url(#ir)"/>
<ellipse cx="169.20" cy="96.80" rx="4.45" ry="4.10" fill="url(#ir)"/>
<ellipse cx="138.80" cy="98.60" rx="4.45" ry="4.10" fill="url(#ir)"/>
<ellipse cx="154.00" cy="98.60" rx="4.45" ry="4.10" fill="url(#ir)"/>
<ellipse cx="164.00" cy="99.00" rx="4.45" ry="4.10" fill="url(#ir)"/>
<ellipse cx="156.30" cy="86.10" rx="4.45" ry="4.10" fill="url(#ir)"/>
<ellipse cx="141.10" cy="87.90" rx="4.45" ry="4.10" fill="url(#ir)"/>
<ellipse cx="151.60" cy="88.40" rx="4.45" ry="4.10" fill="url(#ir)"/>
<ellipse cx="166.80" cy="87.90" rx="4.45" ry="4.10" fill="url(#ir)"/>
<ellipse cx="144.60" cy="75.40" rx="4.45" ry="4.10" fill="url(#ir)"/>
<ellipse cx="169.20" cy="75.30" rx="4.45" ry="4.10" fill="url(#ir)"/>
<ellipse cx="138.80" cy="77.10" rx="4.45" ry="4.10" fill="url(#ir)"/>
<ellipse cx="154.00" cy="77.10" rx="4.45" ry="4.10" fill="url(#ir)"/>
<ellipse cx="164.00" cy="77.50" rx="4.45" ry="4.10" fill="url(#ir)"/>
<ellipse cx="156.30" cy="64.60" rx="4.45" ry="4.10" fill="url(#ir)"/>
<ellipse cx="141.10" cy="66.40" rx="4.45" ry="4.10" fill="url(#ir)"/>
<ellipse cx="151.60" cy="66.90" rx="4.45" ry="4.10" fill="url(#ir)"/>
<ellipse cx="166.80" cy="66.40" rx="4.45" ry="4.10" fill="url(#ir)"/>
<ellipse cx="144.60" cy="53.90" rx="4.45" ry="4.10" fill="url(#ir)"/>
<ellipse cx="169.20" cy="53.80" rx="4.45" ry="4.10" fill="url(#ir)"/>
<ellipse cx="138.80" cy="55.60" rx="4.45" ry="4.10" fill="url(#ir)"/>
<ellipse cx="154.00" cy="55.60" rx="4.45" ry="4.10" fill="url(#ir)"/>
<ellipse cx="164.00" cy="56.00" rx="4.45" ry="4.10" fill="url(#ir)"/>
<ellipse cx="156.30" cy="42.00" rx="4.60" ry="3.75" fill="url(#co)"/>
<ellipse cx="141.10" cy="43.80" rx="4.60" ry="3.75" fill="url(#co)"/>
<ellipse cx="151.60" cy="44.30" rx="4.60" ry="3.75" fill="url(#co)"/>
<ellipse cx="166.80" cy="43.80" rx="4.60" ry="3.75" fill="url(#co)"/>
<ellipse cx="144.60" cy="30.30" rx="4.60" ry="3.75" fill="url(#co)"/>
<ellipse cx="169.20" cy="30.20" rx="4.60" ry="3.75" fill="url(#co)"/>
<ellipse cx="138.80" cy="32.00" rx="4.60" ry="3.75" fill="url(#co)"/>
<ellipse cx="154.00" cy="32.00" rx="4.60" ry="3.75" fill="url(#co)"/>
<ellipse cx="164.00" cy="32.40" rx="4.60" ry="3.75" fill="url(#co)"/>
</g>
</g>
<g filter="url(#bl)">
<clipPath id="sc318_20"><rect x="310.4" y="17.3" width="41.8" height="87.7"/></clipPath>
<g clip-path="url(#sc318_20)">
<g stroke="#555" stroke-width="0.6">
<clipPath id="bb318_20"><rect x="317.5" y="23.9" width="27.4" height="85.1"/></clipPath>
<g clip-path="url(#bb318_20)">
<line x1="229.3" y1="23.9" x2="314.4" y2="109.0"/>
<line x1="314.4" y1="23.9" x2="229.3" y2="109.0"/>
<line x1="235.4" y1="23.9" x2="320.5" y2="109.0"/>
<line x1="320.5" y1="23.9" x2="235.4" y2="109.0"/>
<line x1="241.5" y1="23.9" x2="326.6" y2="109.0"/>
<line x1="326.6" y1="23.9" x2="241.5" y2="109.0"/>
<line x1="247.6" y1="23.9" x2="332.7" y2="109.0"/>
<line x1="332.7" y1="23.9" x2="247.6" y2="109.0"/>
<line x1="253.7" y1="23.9" x2="338.8" y2="109.0"/>
<line x1="338.8" y1="23.9" x2="253.7" y2="109.0"/>
<line x1="259.8" y1="23.9" x2="344.9" y2="109.0"/>
<line x1="344.9" y1="23.9" x2="259.8" y2="109.0"/>
<line x1="265.8" y1="23.9" x2="350.9" y2="109.0"/>
<line x1="350.9" y1="23.9" x2="265.8" y2="109.0"/>
<line x1="271.9" y1="23.9" x2="357.0" y2="109.0"/>
<line x1="357.0" y1="23.9" x2="271.9" y2="109.0"/>
<line x1="278.0" y1="23.9" x2="363.1" y2="109.0"/>
<line x1="363.1" y1="23.9" x2="278.0" y2="109.0"/>
<line x1="284.1" y1="23.9" x2="369.2" y2="109.0"/>
<line x1="369.2" y1="23.9" x2="284.1" y2="109.0"/>
<line x1="290.2" y1="23.9" x2="375.3" y2="109.0"/>
<line x1="375.3" y1="23.9" x2="290.2" y2="109.0"/>
<line x1="296.3" y1="23.9" x2="381.4" y2="109.0"/>
<line x1="381.4" y1="23.9" x2="296.3" y2="109.0"/>
<line x1="302.4" y1="23.9" x2="387.5" y2="109.0"/>
<line x1="387.5" y1="23.9" x2="302.4" y2="109.0"/>
<line x1="308.5" y1="23.9" x2="393.6" y2="109.0"/>
<line x1="393.6" y1="23.9" x2="308.5" y2="109.0"/>
<line x1="314.6" y1="23.9" x2="399.7" y2="109.0"/>
<line x1="399.7" y1="23.9" x2="314.6" y2="109.0"/>
<line x1="320.6" y1="23.9" x2="405.7" y2="109.0"/>
<line x1="405.7" y1="23.9" x2="320.6" y2="109.0"/>
<line x1="326.7" y1="23.9" x2="411.8" y2="109.0"/>
<line x1="411.8" y1="23.9" x2="326.7" y2="109.0"/>
<line x1="332.8" y1="23.9" x2="417.9" y2="109.0"/>
<line x1="417.9" y1="23.9" x2="332.8" y2="109.0"/>
<line x1="338.9" y1="23.9" x2="424.0" y2="109.0"/>
<line x1="424.0" y1="23.9" x2="338.9" y2="109.0"/>
<line x1="345.0" y1="23.9" x2="430.1" y2="109.0"/>
<line x1="430.1" y1="23.9" x2="345.0" y2="109.0"/>
</g></g>
<ellipse cx="333.62" cy="99.83" rx="3.87" ry="3.57" fill="url(#ir)"/>
<ellipse cx="320.40" cy="101.40" rx="3.87" ry="3.57" fill="url(#ir)"/>
<ellipse cx="329.54" cy="101.84" rx="3.87" ry="3.57" fill="url(#ir)"/>
<ellipse cx="342.76" cy="101.40" rx="3.87" ry="3.57" fill="url(#ir)"/>
<ellipse cx="323.45" cy="90.42" rx="3.87" ry="3.57" fill="url(#ir)"/>
<ellipse cx="344.85" cy="90.33" rx="3.87" ry="3.57" fill="url(#ir)"/>
<ellipse cx="318.40" cy="91.90" rx="3.87" ry="3.57" fill="url(#ir)"/>
<ellipse cx="331.62" cy="91.90" rx="3.87" ry="3.57" fill="url(#ir)"/>
<ellipse cx="340.32" cy="92.25" rx="3.87" ry="3.57" fill="url(#ir)"/>
<ellipse cx="333.62" cy="80.73" rx="3.87" ry="3.57" fill="url(#ir)"/>
<ellipse cx="320.40" cy="82.30" rx="3.87" ry="3.57" fill="url(#ir)"/>
<ellipse cx="329.54" cy="82.73" rx="3.87" ry="3.57" fill="url(#ir)"/>
<ellipse cx="342.76" cy="82.30" rx="3.87" ry="3.57" fill="url(#ir)"/>
<ellipse cx="323.45" cy="71.32" rx="3.87" ry="3.57" fill="url(#ir)"/>
<ellipse cx="344.85" cy="71.23" rx="3.87" ry="3.57" fill="url(#ir)"/>
<ellipse cx="318.40" cy="72.80" rx="3.87" ry="3.57" fill="url(#ir)"/>
<ellipse cx="331.62" cy="72.80" rx="3.87" ry="3.57" fill="url(#ir)"/>
<ellipse cx="340.32" cy="73.15" rx="3.87" ry="3.57" fill="url(#ir)"/>
<ellipse cx="333.62" cy="61.63" rx="3.87" ry="3.57" fill="url(#ir)"/>
<ellipse cx="320.40" cy="63.20" rx="3.87" ry="3.57" fill="url(#ir)"/>
<ellipse cx="329.54" cy="63.64" rx="3.87" ry="3.57" fill="url(#ir)"/>
<ellipse cx="342.76" cy="63.20" rx="3.87" ry="3.57" fill="url(#ir)"/>
<ellipse cx="323.45" cy="52.22" rx="3.87" ry="3.57" fill="url(#ir)"/>
<ellipse cx="344.85" cy="52.13" rx="3.87" ry="3.57" fill="url(#ir)"/>
<ellipse cx="318.40" cy="53.70" rx="3.87" ry="3.57" fill="url(#ir)"/>
<ellipse cx="331.62" cy="53.70" rx="3.87" ry="3.57" fill="url(#ir)"/>
<ellipse cx="340.32" cy="54.05" rx="3.87" ry="3.57" fill="url(#ir)"/>
<ellipse cx="333.62" cy="42.43" rx="4.00" ry="3.26" fill="url(#co)"/>
<ellipse cx="320.40" cy="44.00" rx="4.00" ry="3.26" fill="url(#co)"/>
<ellipse cx="329.54" cy="44.44" rx="4.00" ry="3.26" fill="url(#co)"/>
<ellipse cx="342.76" cy="44.00" rx="4.00" ry="3.26" fill="url(#co)"/>
<ellipse cx="323.45" cy="32.72" rx="4.00" ry="3.26" fill="url(#co)"/>
<ellipse cx="344.85" cy="32.63" rx="4.00" ry="3.26" fill="url(#co)"/>
<ellipse cx="318.40" cy="34.20" rx="4.00" ry="3.26" fill="url(#co)"/>
<ellipse cx="331.62" cy="34.20" rx="4.00" ry="3.26" fill="url(#co)"/>
<ellipse cx="340.32" cy="34.55" rx="4.00" ry="3.26" fill="url(#co)"/>
<ellipse cx="333.62" cy="22.33" rx="4.00" ry="3.26" fill="url(#co)"/>
<ellipse cx="320.40" cy="23.90" rx="4.00" ry="3.26" fill="url(#co)"/>
<ellipse cx="329.54" cy="24.33" rx="4.00" ry="3.26" fill="url(#co)"/>
<ellipse cx="342.76" cy="23.90" rx="4.00" ry="3.26" fill="url(#co)"/>
</g>
</g>
<g filter="url(#bl)">
<clipPath id="sc498_7"><rect x="490.8" y="5.0" width="47.0" height="95.3"/></clipPath>
<g clip-path="url(#sc498_7)">
<g stroke="#555" stroke-width="0.6">
<clipPath id="bb498_7"><rect x="497.8" y="12.0" width="30.9" height="92.3"/></clipPath>
<g clip-path="url(#bb498_7)">
<line x1="402.5" y1="12.0" x2="494.8" y2="104.3"/>
<line x1="494.8" y1="12.0" x2="402.5" y2="104.3"/>
<line x1="409.4" y1="12.0" x2="501.7" y2="104.3"/>
<line x1="501.7" y1="12.0" x2="409.4" y2="104.3"/>
<line x1="416.2" y1="12.0" x2="508.5" y2="104.3"/>
<line x1="508.5" y1="12.0" x2="416.2" y2="104.3"/>
<line x1="423.1" y1="12.0" x2="515.4" y2="104.3"/>
<line x1="515.4" y1="12.0" x2="423.1" y2="104.3"/>
<line x1="429.9" y1="12.0" x2="522.2" y2="104.3"/>
<line x1="522.2" y1="12.0" x2="429.9" y2="104.3"/>
<line x1="436.8" y1="12.0" x2="529.1" y2="104.3"/>
<line x1="529.1" y1="12.0" x2="436.8" y2="104.3"/>
<line x1="443.7" y1="12.0" x2="536.0" y2="104.3"/>
<line x1="536.0" y1="12.0" x2="443.7" y2="104.3"/>
<line x1="450.5" y1="12.0" x2="542.8" y2="104.3"/>
<line x1="542.8" y1="12.0" x2="450.5" y2="104.3"/>
<line x1="457.4" y1="12.0" x2="549.7" y2="104.3"/>
<line x1="549.7" y1="12.0" x2="457.4" y2="104.3"/>
<line x1="464.2" y1="12.0" x2="556.5" y2="104.3"/>
<line x1="556.5" y1="12.0" x2="464.2" y2="104.3"/>
<line x1="471.1" y1="12.0" x2="563.4" y2="104.3"/>
<line x1="563.4" y1="12.0" x2="471.1" y2="104.3"/>
<line x1="478.0" y1="12.0" x2="570.3" y2="104.3"/>
<line x1="570.3" y1="12.0" x2="478.0" y2="104.3"/>
<line x1="484.8" y1="12.0" x2="577.1" y2="104.3"/>
<line x1="577.1" y1="12.0" x2="484.8" y2="104.3"/>
<line x1="491.7" y1="12.0" x2="584.0" y2="104.3"/>
<line x1="584.0" y1="12.0" x2="491.7" y2="104.3"/>
<line x1="498.5" y1="12.0" x2="590.8" y2="104.3"/>
<line x1="590.8" y1="12.0" x2="498.5" y2="104.3"/>
<line x1="505.4" y1="12.0" x2="597.7" y2="104.3"/>
<line x1="597.7" y1="12.0" x2="505.4" y2="104.3"/>
<line x1="512.3" y1="12.0" x2="604.6" y2="104.3"/>
<line x1="604.6" y1="12.0" x2="512.3" y2="104.3"/>
<line x1="519.1" y1="12.0" x2="611.4" y2="104.3"/>
<line x1="611.4" y1="12.0" x2="519.1" y2="104.3"/>
<line x1="526.0" y1="12.0" x2="618.3" y2="104.3"/>
<line x1="618.3" y1="12.0" x2="526.0" y2="104.3"/>
</g></g>
<ellipse cx="504.48" cy="95.03" rx="4.36" ry="4.02" fill="url(#ir)"/>
<ellipse cx="528.59" cy="94.94" rx="4.36" ry="4.02" fill="url(#ir)"/>
<ellipse cx="498.80" cy="96.70" rx="4.36" ry="4.02" fill="url(#ir)"/>
<ellipse cx="513.70" cy="96.70" rx="4.36" ry="4.02" fill="url(#ir)"/>
<ellipse cx="523.50" cy="97.09" rx="4.36" ry="4.02" fill="url(#ir)"/>
<ellipse cx="515.95" cy="84.94" rx="4.36" ry="4.02" fill="url(#ir)"/>
<ellipse cx="501.05" cy="86.70" rx="4.36" ry="4.02" fill="url(#ir)"/>
<ellipse cx="511.34" cy="87.19" rx="4.36" ry="4.02" fill="url(#ir)"/>
<ellipse cx="526.24" cy="86.70" rx="4.36" ry="4.02" fill="url(#ir)"/>
<ellipse cx="504.48" cy="74.63" rx="4.36" ry="4.02" fill="url(#ir)"/>
<ellipse cx="528.59" cy="74.54" rx="4.36" ry="4.02" fill="url(#ir)"/>
<ellipse cx="498.80" cy="76.30" rx="4.36" ry="4.02" fill="url(#ir)"/>
<ellipse cx="513.70" cy="76.30" rx="4.36" ry="4.02" fill="url(#ir)"/>
<ellipse cx="523.50" cy="76.69" rx="4.36" ry="4.02" fill="url(#ir)"/>
<ellipse cx="515.95" cy="64.04" rx="4.36" ry="4.02" fill="url(#ir)"/>
<ellipse cx="501.05" cy="65.80" rx="4.36" ry="4.02" fill="url(#ir)"/>
<ellipse cx="511.34" cy="66.29" rx="4.36" ry="4.02" fill="url(#ir)"/>
<ellipse cx="526.24" cy="65.80" rx="4.36" ry="4.02" fill="url(#ir)"/>
<ellipse cx="504.48" cy="53.73" rx="4.36" ry="4.02" fill="url(#ir)"/>
<ellipse cx="528.59" cy="53.64" rx="4.36" ry="4.02" fill="url(#ir)"/>
<ellipse cx="498.80" cy="55.40" rx="4.36" ry="4.02" fill="url(#ir)"/>
<ellipse cx="513.70" cy="55.40" rx="4.36" ry="4.02" fill="url(#ir)"/>
<ellipse cx="523.50" cy="55.79" rx="4.36" ry="4.02" fill="url(#ir)"/>
<ellipse cx="515.95" cy="42.34" rx="4.51" ry="3.67" fill="url(#co)"/>
<ellipse cx="501.05" cy="44.10" rx="4.51" ry="3.67" fill="url(#co)"/>
<ellipse cx="511.34" cy="44.59" rx="4.51" ry="3.67" fill="url(#co)"/>
<ellipse cx="526.24" cy="44.10" rx="4.51" ry="3.67" fill="url(#co)"/>
<ellipse cx="504.48" cy="32.03" rx="4.51" ry="3.67" fill="url(#co)"/>
<ellipse cx="528.59" cy="31.94" rx="4.51" ry="3.67" fill="url(#co)"/>
<ellipse cx="498.80" cy="33.70" rx="4.51" ry="3.67" fill="url(#co)"/>
<ellipse cx="513.70" cy="33.70" rx="4.51" ry="3.67" fill="url(#co)"/>
<ellipse cx="523.50" cy="34.09" rx="4.51" ry="3.67" fill="url(#co)"/>
<ellipse cx="515.95" cy="21.54" rx="4.51" ry="3.67" fill="url(#co)"/>
<ellipse cx="501.05" cy="23.30" rx="4.51" ry="3.67" fill="url(#co)"/>
<ellipse cx="511.34" cy="23.79" rx="4.51" ry="3.67" fill="url(#co)"/>
<ellipse cx="526.24" cy="23.30" rx="4.51" ry="3.67" fill="url(#co)"/>
<ellipse cx="504.48" cy="10.33" rx="4.51" ry="3.67" fill="url(#co)"/>
<ellipse cx="528.59" cy="10.24" rx="4.51" ry="3.67" fill="url(#co)"/>
<ellipse cx="498.80" cy="12.00" rx="4.51" ry="3.67" fill="url(#co)"/>
<ellipse cx="513.70" cy="12.00" rx="4.51" ry="3.67" fill="url(#co)"/>
<ellipse cx="523.50" cy="12.39" rx="4.51" ry="3.67" fill="url(#co)"/>
</g>
</g>
<g filter="url(#bl)">
<clipPath id="sc138_275"><rect x="130.6" y="272.9" width="48.0" height="86.1"/></clipPath>
<g clip-path="url(#sc138_275)">
<g stroke="#555" stroke-width="0.6">
<clipPath id="bb138_275"><rect x="137.6" y="280.0" width="31.5" height="83.0"/></clipPath>
<g clip-path="url(#bb138_275)">
<line x1="51.6" y1="280.0" x2="134.6" y2="363.0"/>
<line x1="134.6" y1="280.0" x2="51.6" y2="363.0"/>
<line x1="58.6" y1="280.0" x2="141.6" y2="363.0"/>
<line x1="141.6" y1="280.0" x2="58.6" y2="363.0"/>
<line x1="65.6" y1="280.0" x2="148.6" y2="363.0"/>
<line x1="148.6" y1="280.0" x2="65.6" y2="363.0"/>
<line x1="72.6" y1="280.0" x2="155.6" y2="363.0"/>
<line x1="155.6" y1="280.0" x2="72.6" y2="363.0"/>
<line x1="79.6" y1="280.0" x2="162.6" y2="363.0"/>
<line x1="162.6" y1="280.0" x2="79.6" y2="363.0"/>
<line x1="86.6" y1="280.0" x2="169.6" y2="363.0"/>
<line x1="169.6" y1="280.0" x2="86.6" y2="363.0"/>
<line x1="93.6" y1="280.0" x2="176.6" y2="363.0"/>
<line x1="176.6" y1="280.0" x2="93.6" y2="363.0"/>
<line x1="100.6" y1="280.0" x2="183.6" y2="363.0"/>
<line x1="183.6" y1="280.0" x2="100.6" y2="363.0"/>
<line x1="107.6" y1="280.0" x2="190.6" y2="363.0"/>
<line x1="190.6" y1="280.0" x2="107.6" y2="363.0"/>
<line x1="114.6" y1="280.0" x2="197.6" y2="363.0"/>
<line x1="197.6" y1="280.0" x2="114.6" y2="363.0"/>
<line x1="121.6" y1="280.0" x2="204.6" y2="363.0"/>
<line x1="204.6" y1="280.0" x2="121.6" y2="363.0"/>
<line x1="128.6" y1="280.0" x2="211.6" y2="363.0"/>
<line x1="211.6" y1="280.0" x2="128.6" y2="363.0"/>
<line x1="135.6" y1="280.0" x2="218.6" y2="363.0"/>
<line x1="218.6" y1="280.0" x2="135.6" y2="363.0"/>
<line x1="142.6" y1="280.0" x2="225.6" y2="363.0"/>
<line x1="225.6" y1="280.0" x2="142.6" y2="363.0"/>
<line x1="149.6" y1="280.0" x2="232.6" y2="363.0"/>
<line x1="232.6" y1="280.0" x2="149.6" y2="363.0"/>
<line x1="156.6" y1="280.0" x2="239.6" y2="363.0"/>
<line x1="239.6" y1="280.0" x2="156.6" y2="363.0"/>
<line x1="163.6" y1="280.0" x2="246.6" y2="363.0"/>
<line x1="246.6" y1="280.0" x2="163.6" y2="363.0"/>
<line x1="170.6" y1="280.0" x2="253.6" y2="363.0"/>
<line x1="253.6" y1="280.0" x2="170.6" y2="363.0"/>
</g></g>
<ellipse cx="156.10" cy="354.10" rx="4.45" ry="4.10" fill="url(#ir)"/>
<ellipse cx="140.90" cy="355.90" rx="4.45" ry="4.10" fill="url(#ir)"/>
<ellipse cx="151.40" cy="356.40" rx="4.45" ry="4.10" fill="url(#ir)"/>
<ellipse cx="166.60" cy="355.90" rx="4.45" ry="4.10" fill="url(#ir)"/>
<ellipse cx="144.40" cy="343.90" rx="4.45" ry="4.10" fill="url(#ir)"/>
<ellipse cx="169.00" cy="343.80" rx="4.45" ry="4.10" fill="url(#ir)"/>
<ellipse cx="138.60" cy="345.60" rx="4.45" ry="4.10" fill="url(#ir)"/>
<ellipse cx="153.80" cy="345.60" rx="4.45" ry="4.10" fill="url(#ir)"/>
<ellipse cx="163.80" cy="346.00" rx="4.45" ry="4.10" fill="url(#ir)"/>
<ellipse cx="156.10" cy="333.10" rx="4.45" ry="4.10" fill="url(#ir)"/>
<ellipse cx="140.90" cy="334.90" rx="4.45" ry="4.10" fill="url(#ir)"/>
<ellipse cx="151.40" cy="335.40" rx="4.45" ry="4.10" fill="url(#ir)"/>
<ellipse cx="166.60" cy="334.90" rx="4.45" ry="4.10" fill="url(#ir)"/>
<ellipse cx="144.40" cy="322.30" rx="4.45" ry="4.10" fill="url(#ir)"/>
<ellipse cx="169.00" cy="322.20" rx="4.45" ry="4.10" fill="url(#ir)"/>
<ellipse cx="138.60" cy="324.00" rx="4.45" ry="4.10" fill="url(#ir)"/>
<ellipse cx="153.80" cy="324.00" rx="4.45" ry="4.10" fill="url(#ir)"/>
<ellipse cx="163.80" cy="324.40" rx="4.45" ry="4.10" fill="url(#ir)"/>
<ellipse cx="156.10" cy="311.60" rx="4.45" ry="4.10" fill="url(#ir)"/>
<ellipse cx="140.90" cy="313.40" rx="4.45" ry="4.10" fill="url(#ir)"/>
<ellipse cx="151.40" cy="313.90" rx="4.45" ry="4.10" fill="url(#ir)"/>
<ellipse cx="166.60" cy="313.40" rx="4.45" ry="4.10" fill="url(#ir)"/>
<ellipse cx="144.40" cy="300.80" rx="4.45" ry="4.10" fill="url(#ir)"/>
<ellipse cx="169.00" cy="300.70" rx="4.45" ry="4.10" fill="url(#ir)"/>
<ellipse cx="138.60" cy="302.50" rx="4.45" ry="4.10" fill="url(#ir)"/>
<ellipse cx="153.80" cy="302.50" rx="4.45" ry="4.10" fill="url(#ir)"/>
<ellipse cx="163.80" cy="302.90" rx="4.45" ry="4.10" fill="url(#ir)"/>
<ellipse cx="156.10" cy="289.20" rx="4.60" ry="3.75" fill="url(#co)"/>
<ellipse cx="140.90" cy="291.00" rx="4.60" ry="3.75" fill="url(#co)"/>
<ellipse cx="151.40" cy="291.50" rx="4.60" ry="3.75" fill="url(#co)"/>
<ellipse cx="166.60" cy="291.00" rx="4.60" ry="3.75" fill="url(#co)"/>
<ellipse cx="144.40" cy="278.30" rx="4.60" ry="3.75" fill="url(#co)"/>
<ellipse cx="169.00" cy="278.20" rx="4.60" ry="3.75" fill="url(#co)"/>
<ellipse cx="138.60" cy="280.00" rx="4.60" ry="3.75" fill="url(#co)"/>
<ellipse cx="153.80" cy="280.00" rx="4.60" ry="3.75" fill="url(#co)"/>
<ellipse cx="163.80" cy="280.40" rx="4.60" ry="3.75" fill="url(#co)"/>
</g>
</g>
<g filter="url(#bl)">
<clipPath id="sc320_274"><rect x="312.2" y="271.5" width="40.9" height="80.8"/></clipPath>
<g clip-path="url(#sc320_274)">
<g stroke="#555" stroke-width="0.6">
<clipPath id="bb320_274"><rect x="319.3" y="278.0" width="26.8" height="78.3"/></clipPath>
<g clip-path="url(#bb320_274)">
<line x1="237.9" y1="278.0" x2="316.2" y2="356.3"/>
<line x1="316.2" y1="278.0" x2="237.9" y2="356.3"/>
<line x1="243.9" y1="278.0" x2="322.2" y2="356.3"/>
<line x1="322.2" y1="278.0" x2="243.9" y2="356.3"/>
<line x1="249.8" y1="278.0" x2="328.1" y2="356.3"/>
<line x1="328.1" y1="278.0" x2="249.8" y2="356.3"/>
<line x1="255.8" y1="278.0" x2="334.1" y2="356.3"/>
<line x1="334.1" y1="278.0" x2="255.8" y2="356.3"/>
<line x1="261.8" y1="278.0" x2="340.1" y2="356.3"/>
<line x1="340.1" y1="278.0" x2="261.8" y2="356.3"/>
<line x1="267.7" y1="278.0" x2="346.0" y2="356.3"/>
<line x1="346.0" y1="278.0" x2="267.7" y2="356.3"/>
<line x1="273.7" y1="278.0" x2="352.0" y2="356.3"/>
<line x1="352.0" y1="278.0" x2="273.7" y2="356.3"/>
<line x1="279.6" y1="278.0" x2="357.9" y2="356.3"/>
<line x1="357.9" y1="278.0" x2="279.6" y2="356.3"/>
<line x1="285.6" y1="278.0" x2="363.9" y2="356.3"/>
<line x1="363.9" y1="278.0" x2="285.6" y2="356.3"/>
<line x1="291.6" y1="278.0" x2="369.9" y2="356.3"/>
<line x1="369.9" y1="278.0" x2="291.6" y2="356.3"/>
<line x1="297.5" y1="278.0" x2="375.8" y2="356.3"/>
<line x1="375.8" y1="278.0" x2="297.5" y2="356.3"/>
<line x1="303.5" y1="278.0" x2="381.8" y2="356.3"/>
<line x1="381.8" y1="278.0" x2="303.5" y2="356.3"/>
<line x1="309.5" y1="278.0" x2="387.8" y2="356.3"/>
<line x1="387.8" y1="278.0" x2="309.5" y2="356.3"/>
<line x1="315.4" y1="278.0" x2="393.7" y2="356.3"/>
<line x1="393.7" y1="278.0" x2="315.4" y2="356.3"/>
<line x1="321.4" y1="278.0" x2="399.7" y2="356.3"/>
<line x1="399.7" y1="278.0" x2="321.4" y2="356.3"/>
<line x1="327.4" y1="278.0" x2="405.7" y2="356.3"/>
<line x1="405.7" y1="278.0" x2="327.4" y2="356.3"/>
<line x1="333.3" y1="278.0" x2="411.6" y2="356.3"/>
<line x1="411.6" y1="278.0" x2="333.3" y2="356.3"/>
<line x1="339.3" y1="278.0" x2="417.6" y2="356.3"/>
<line x1="417.6" y1="278.0" x2="339.3" y2="356.3"/>
<line x1="345.3" y1="278.0" x2="423.6" y2="356.3"/>
<line x1="423.6" y1="278.0" x2="345.3" y2="356.3"/>
</g></g>
<ellipse cx="325.14" cy="345.55" rx="3.79" ry="3.49" fill="url(#ir)"/>
<ellipse cx="346.10" cy="345.47" rx="3.79" ry="3.49" fill="url(#ir)"/>
<ellipse cx="320.20" cy="347.00" rx="3.79" ry="3.49" fill="url(#ir)"/>
<ellipse cx="333.15" cy="347.00" rx="3.79" ry="3.49" fill="url(#ir)"/>
<ellipse cx="341.67" cy="347.34" rx="3.79" ry="3.49" fill="url(#ir)"/>
<ellipse cx="335.11" cy="335.67" rx="3.79" ry="3.49" fill="url(#ir)"/>
<ellipse cx="322.16" cy="337.20" rx="3.79" ry="3.49" fill="url(#ir)"/>
<ellipse cx="331.11" cy="337.63" rx="3.79" ry="3.49" fill="url(#ir)"/>
<ellipse cx="344.06" cy="337.20" rx="3.79" ry="3.49" fill="url(#ir)"/>
<ellipse cx="325.14" cy="325.95" rx="3.79" ry="3.49" fill="url(#ir)"/>
<ellipse cx="346.10" cy="325.87" rx="3.79" ry="3.49" fill="url(#ir)"/>
<ellipse cx="320.20" cy="327.40" rx="3.79" ry="3.49" fill="url(#ir)"/>
<ellipse cx="333.15" cy="327.40" rx="3.79" ry="3.49" fill="url(#ir)"/>
<ellipse cx="341.67" cy="327.74" rx="3.79" ry="3.49" fill="url(#ir)"/>
<ellipse cx="335.11" cy="316.07" rx="3.79" ry="3.49" fill="url(#ir)"/>
<ellipse cx="322.16" cy="317.60" rx="3.79" ry="3.49" fill="url(#ir)"/>
<ellipse cx="331.11" cy="318.03" rx="3.79" ry="3.49" fill="url(#ir)"/>
<ellipse cx="344.06" cy="317.60" rx="3.79" ry="3.49" fill="url(#ir)"/>
<ellipse cx="325.14" cy="306.35" rx="3.79" ry="3.49" fill="url(#ir)"/>
<ellipse cx="346.10" cy="306.27" rx="3.79" ry="3.49" fill="url(#ir)"/>
<ellipse cx="320.20" cy="307.80" rx="3.79" ry="3.49" fill="url(#ir)"/>
<ellipse cx="333.15" cy="307.80" rx="3.79" ry="3.49" fill="url(#ir)"/>
<ellipse cx="341.67" cy="308.14" rx="3.79" ry="3.49" fill="url(#ir)"/>
<ellipse cx="335.11" cy="296.77" rx="3.92" ry="3.19" fill="url(#co)"/>
<ellipse cx="322.16" cy="298.30" rx="3.92" ry="3.19" fill="url(#co)"/>
<ellipse cx="331.11" cy="298.73" rx="3.92" ry="3.19" fill="url(#co)"/>
<ellipse cx="344.06" cy="298.30" rx="3.92" ry="3.19" fill="url(#co)"/>
<ellipse cx="325.14" cy="286.75" rx="3.92" ry="3.19" fill="url(#co)"/>
<ellipse cx="346.10" cy="286.67" rx="3.92" ry="3.19" fill="url(#co)"/>
<ellipse cx="320.20" cy="288.20" rx="3.92" ry="3.19" fill="url(#co)"/>
<ellipse cx="333.15" cy="288.20" rx="3.92" ry="3.19" fill="url(#co)"/>
<ellipse cx="341.67" cy="288.54" rx="3.92" ry="3.19" fill="url(#co)"/>
<ellipse cx="335.11" cy="276.47" rx="3.92" ry="3.19" fill="url(#co)"/>
<ellipse cx="322.16" cy="278.00" rx="3.92" ry="3.19" fill="url(#co)"/>
<ellipse cx="331.11" cy="278.43" rx="3.92" ry="3.19" fill="url(#co)"/>
<ellipse cx="344.06" cy="278.00" rx="3.92" ry="3.19" fill="url(#co)"/>
</g>
</g>
<g filter="url(#bl)">
<clipPath id="sc500_265"><rect x="492.1" y="262.4" width="46.6" height="93.6"/></clipPath>
<g clip-path="url(#sc500_265)">
<g stroke="#555" stroke-width="0.6">
<clipPath id="bb500_265"><rect x="499.1" y="269.4" width="30.6" height="90.6"/></clipPath>
<g clip-path="url(#bb500_265)">
<line x1="405.5" y1="269.4" x2="496.1" y2="360.0"/>
<line x1="496.1" y1="269.4" x2="405.5" y2="360.0"/>
<line x1="412.3" y1="269.4" x2="502.9" y2="360.0"/>
<line x1="502.9" y1="269.4" x2="412.3" y2="360.0"/>
<line x1="419.1" y1="269.4" x2="509.7" y2="360.0"/>
<line x1="509.7" y1="269.4" x2="419.1" y2="360.0"/>
<line x1="425.9" y1="269.4" x2="516.5" y2="360.0"/>
<line x1="516.5" y1="269.4" x2="425.9" y2="360.0"/>
<line x1="432.7" y1="269.4" x2="523.3" y2="360.0"/>
<line x1="523.3" y1="269.4" x2="432.7" y2="360.0"/>
<line x1="439.5" y1="269.4" x2="530.1" y2="360.0"/>
<line x1="530.1" y1="269.4" x2="439.5" y2="360.0"/>
<line x1="446.2" y1="269.4" x2="536.8" y2="360.0"/>
<line x1="536.8" y1="269.4" x2="446.2" y2="360.0"/>
<line x1="453.0" y1="269.4" x2="543.6" y2="360.0"/>
<line x1="543.6" y1="269.4" x2="453.0" y2="360.0"/>
<line x1="459.8" y1="269.4" x2="550.4" y2="360.0"/>
<line x1="550.4" y1="269.4" x2="459.8" y2="360.0"/>
<line x1="466.6" y1="269.4" x2="557.2" y2="360.0"/>
<line x1="557.2" y1="269.4" x2="466.6" y2="360.0"/>
<line x1="473.4" y1="269.4" x2="564.0" y2="360.0"/>
<line x1="564.0" y1="269.4" x2="473.4" y2="360.0"/>
<line x1="480.2" y1="269.4" x2="570.8" y2="360.0"/>
<line x1="570.8" y1="269.4" x2="480.2" y2="360.0"/>
<line x1="487.0" y1="269.4" x2="577.6" y2="360.0"/>
<line x1="577.6" y1="269.4" x2="487.0" y2="360.0"/>
<line x1="493.8" y1="269.4" x2="584.4" y2="360.0"/>
<line x1="584.4" y1="269.4" x2="493.8" y2="360.0"/>
<line x1="500.6" y1="269.4" x2="591.2" y2="360.0"/>
<line x1="591.2" y1="269.4" x2="500.6" y2="360.0"/>
<line x1="507.4" y1="269.4" x2="598.0" y2="360.0"/>
<line x1="598.0" y1="269.4" x2="507.4" y2="360.0"/>
<line x1="514.1" y1="269.4" x2="604.7" y2="360.0"/>
<line x1="604.7" y1="269.4" x2="514.1" y2="360.0"/>
<line x1="520.9" y1="269.4" x2="611.5" y2="360.0"/>
<line x1="611.5" y1="269.4" x2="520.9" y2="360.0"/>
<line x1="527.7" y1="269.4" x2="618.3" y2="360.0"/>
<line x1="618.3" y1="269.4" x2="527.7" y2="360.0"/>
</g></g>
<ellipse cx="505.73" cy="351.65" rx="4.32" ry="3.98" fill="url(#ir)"/>
<ellipse cx="529.59" cy="351.55" rx="4.32" ry="3.98" fill="url(#ir)"/>
<ellipse cx="500.10" cy="353.30" rx="4.32" ry="3.98" fill="url(#ir)"/>
<ellipse cx="514.84" cy="353.30" rx="4.32" ry="3.98" fill="url(#ir)"/>
<ellipse cx="524.54" cy="353.69" rx="4.32" ry="3.98" fill="url(#ir)"/>
<ellipse cx="517.08" cy="341.05" rx="4.32" ry="3.98" fill="url(#ir)"/>
<ellipse cx="502.33" cy="342.80" rx="4.32" ry="3.98" fill="url(#ir)"/>
<ellipse cx="512.52" cy="343.29" rx="4.32" ry="3.98" fill="url(#ir)"/>
<ellipse cx="527.26" cy="342.80" rx="4.32" ry="3.98" fill="url(#ir)"/>
<ellipse cx="505.73" cy="330.65" rx="4.32" ry="3.98" fill="url(#ir)"/>
<ellipse cx="529.59" cy="330.55" rx="4.32" ry="3.98" fill="url(#ir)"/>
<ellipse cx="500.10" cy="332.30" rx="4.32" ry="3.98" fill="url(#ir)"/>
<ellipse cx="514.84" cy="332.30" rx="4.32" ry="3.98" fill="url(#ir)"/>
<ellipse cx="524.54" cy="332.69" rx="4.32" ry="3.98" fill="url(#ir)"/>
<ellipse cx="517.08" cy="320.05" rx="4.32" ry="3.98" fill="url(#ir)"/>
<ellipse cx="502.33" cy="321.80" rx="4.32" ry="3.98" fill="url(#ir)"/>
<ellipse cx="512.52" cy="322.29" rx="4.32" ry="3.98" fill="url(#ir)"/>
<ellipse cx="527.26" cy="321.80" rx="4.32" ry="3.98" fill="url(#ir)"/>
<ellipse cx="505.73" cy="309.65" rx="4.32" ry="3.98" fill="url(#ir)"/>
<ellipse cx="529.59" cy="309.55" rx="4.32" ry="3.98" fill="url(#ir)"/>
<ellipse cx="500.10" cy="311.30" rx="4.32" ry="3.98" fill="url(#ir)"/>
<ellipse cx="514.84" cy="311.30" rx="4.32" ry="3.98" fill="url(#ir)"/>
<ellipse cx="524.54" cy="311.69" rx="4.32" ry="3.98" fill="url(#ir)"/>
<ellipse cx="517.08" cy="299.25" rx="4.46" ry="3.64" fill="url(#co)"/>
<ellipse cx="502.33" cy="301.00" rx="4.46" ry="3.64" fill="url(#co)"/>
<ellipse cx="512.52" cy="301.49" rx="4.46" ry="3.64" fill="url(#co)"/>
<ellipse cx="527.26" cy="301.00" rx="4.46" ry="3.64" fill="url(#co)"/>
<ellipse cx="505.73" cy="289.05" rx="4.46" ry="3.64" fill="url(#co)"/>
<ellipse cx="529.59" cy="288.95" rx="4.46" ry="3.64" fill="url(#co)"/>
<ellipse cx="500.10" cy="290.70" rx="4.46" ry="3.64" fill="url(#co)"/>
<ellipse cx="514.84" cy="290.70" rx="4.46" ry="3.64" fill="url(#co)"/>
<ellipse cx="524.54" cy="291.09" rx="4.46" ry="3.64" fill="url(#co)"/>
<ellipse cx="517.08" cy="277.85" rx="4.46" ry="3.64" fill="url(#co)"/>
<ellipse cx="502.33" cy="279.60" rx="4.46" ry="3.64" fill="url(#co)"/>
<ellipse cx="512.52" cy="280.09" rx="4.46" ry="3.64" fill="url(#co)"/>
<ellipse cx="527.26" cy="279.60" rx="4.46" ry="3.64" fill="url(#co)"/>
<ellipse cx="505.73" cy="267.75" rx="4.46" ry="3.64" fill="url(#co)"/>
<ellipse cx="529.59" cy="267.65" rx="4.46" ry="3.64" fill="url(#co)"/>
<ellipse cx="500.10" cy="269.40" rx="4.46" ry="3.64" fill="url(#co)"/>
<ellipse cx="514.84" cy="269.40" rx="4.46" ry="3.64" fill="url(#co)"/>
<ellipse cx="524.54" cy="269.79" rx="4.46" ry="3.64" fill="url(#co)"/>
</g>
</g>
<text x="127.0" y="28.2" font-family='"Liberation Sans", sans-serif' font-size="11" fill="#111" stroke="#111" stroke-width="0.25">Co</text>
<text x="127.4" y="55.3" font-family='"Liberation Sans", sans-serif' font-size="11" fill="#9a9a9a">Ir</text>
<line x1="175.8" y1="30.7" x2="192.8" y2="30.7" stroke="#4a4a4a" stroke-width="1.1" stroke-dasharray="2.6 1.2"/>
<line x1="175.8" y1="41.9" x2="192.8" y2="41.9" stroke="#4a4a4a" stroke-width="1.1" stroke-dasharray="2.6 1.2"/>
<line x1="175.8" y1="53.1" x2="192.8" y2="53.1" stroke="#8c8c8c" stroke-width="1.1" stroke-dasharray="2.6 1.2"/>
<text x="175.3" y="39.8" font-family='"Liberation Sans", sans-serif' font-size="9.0" fill="#262626" stroke="#262626" stroke-width="0.15">1.91</text>
<text x="175.3" y="51.0" font-family='"Liberation Sans", sans-serif' font-size="9.0" fill="#a2a2a2" stroke="#a2a2a2" stroke-width="0.15">1.91</text>
<line x1="352.3" y1="20.4" x2="369.3" y2="20.4" stroke="#4a4a4a" stroke-width="1.1" stroke-dasharray="2.6 1.2"/>
<line x1="352.3" y1="30.9" x2="369.3" y2="30.9" stroke="#4a4a4a" stroke-width="1.1" stroke-dasharray="2.6 1.2"/>
<line x1="352.3" y1="42.1" x2="369.3" y2="42.1" stroke="#4a4a4a" stroke-width="1.1" stroke-dasharray="2.6 1.2"/>
<line x1="352.3" y1="53.4" x2="369.3" y2="53.4" stroke="#8c8c8c" stroke-width="1.1" stroke-dasharray="2.6 1.2"/>
<text x="351.8" y="29.1" font-family='"Liberation Sans", sans-serif' font-size="9.0" fill="#262626" stroke="#262626" stroke-width="0.15">1.91</text>
<text x="351.8" y="40.0" font-family='"Liberation Sans", sans-serif' font-size="9.0" fill="#262626" stroke="#262626" stroke-width="0.15">1.91</text>
<text x="351.8" y="51.2" font-family='"Liberation Sans", sans-serif' font-size="9.0" fill="#a2a2a2" stroke="#a2a2a2" stroke-width="0.15">1.91</text>
<line x1="537.2" y1="11.6" x2="554.2" y2="11.6" stroke="#4a4a4a" stroke-width="1.1" stroke-dasharray="2.6 1.2"/>
<line x1="537.2" y1="23.6" x2="554.2" y2="23.6" stroke="#4a4a4a" stroke-width="1.1" stroke-dasharray="2.6 1.2"/>
<line x1="537.2" y1="34.5" x2="554.2" y2="34.5" stroke="#4a4a4a" stroke-width="1.1" stroke-dasharray="2.6 1.2"/>
<line x1="537.2" y1="46.2" x2="554.2" y2="46.2" stroke="#4a4a4a" stroke-width="1.1" stroke-dasharray="2.6 1.2"/>
<line x1="537.2" y1="57.0" x2="554.2" y2="57.0" stroke="#8c8c8c" stroke-width="1.1" stroke-dasharray="2.6 1.2"/>
<text x="536.7" y="21.1" font-family='"Liberation Sans", sans-serif' font-size="9.0" fill="#262626" stroke="#262626" stroke-width="0.15">1.91</text>
<text x="536.7" y="32.5" font-family='"Liberation Sans", sans-serif' font-size="9.0" fill="#262626" stroke="#262626" stroke-width="0.15">1.91</text>
<text x="536.7" y="43.9" font-family='"Liberation Sans", sans-serif' font-size="9.0" fill="#262626" stroke="#262626" stroke-width="0.15">1.91</text>
<text x="536.7" y="55.1" font-family='"Liberation Sans", sans-serif' font-size="9.0" fill="#a2a2a2" stroke="#a2a2a2" stroke-width="0.15">1.91</text>
<line x1="177.2" y1="279.1" x2="194.2" y2="279.1" stroke="#4a4a4a" stroke-width="1.1" stroke-dasharray="2.6 1.2"/>
<line x1="177.2" y1="290.8" x2="194.2" y2="290.8" stroke="#4a4a4a" stroke-width="1.1" stroke-dasharray="2.6 1.2"/>
<line x1="177.2" y1="301.6" x2="194.2" y2="301.6" stroke="#8c8c8c" stroke-width="1.1" stroke-dasharray="2.6 1.2"/>
<text x="176.7" y="288.5" font-family='"Liberation Sans", sans-serif' font-size="9.0" fill="#262626" stroke="#262626" stroke-width="0.15">1.6</text>
<text x="176.7" y="299.7" font-family='"Liberation Sans", sans-serif' font-size="9.0" fill="#a2a2a2" stroke="#a2a2a2" stroke-width="0.15">1.75</text>
<line x1="354.0" y1="276.2" x2="371.0" y2="276.2" stroke="#4a4a4a" stroke-width="1.1" stroke-dasharray="2.6 1.2"/>
<line x1="354.0" y1="287.4" x2="371.0" y2="287.4" stroke="#4a4a4a" stroke-width="1.1" stroke-dasharray="2.6 1.2"/>
<line x1="354.0" y1="298.1" x2="371.0" y2="298.1" stroke="#4a4a4a" stroke-width="1.1" stroke-dasharray="2.6 1.2"/>
<line x1="354.0" y1="309.9" x2="371.0" y2="309.9" stroke="#8c8c8c" stroke-width="1.1" stroke-dasharray="2.6 1.2"/>
<text x="353.5" y="285.3" font-family='"Liberation Sans", sans-serif' font-size="9.0" fill="#262626" stroke="#262626" stroke-width="0.15">1.6</text>
<text x="353.5" y="296.2" font-family='"Liberation Sans", sans-serif' font-size="9.0" fill="#262626" stroke="#262626" stroke-width="0.15">1.6</text>
<text x="353.5" y="307.5" font-family='"Liberation Sans", sans-serif' font-size="9.0" fill="#a2a2a2" stroke="#a2a2a2" stroke-width="0.15">1.75</text>
<line x1="537.0" y1="268.9" x2="554.0" y2="268.9" stroke="#4a4a4a" stroke-width="1.1" stroke-dasharray="2.6 1.2"/>
<line x1="537.0" y1="280.8" x2="554.0" y2="280.8" stroke="#4a4a4a" stroke-width="1.1" stroke-dasharray="2.6 1.2"/>
<line x1="537.0" y1="291.6" x2="554.0" y2="291.6" stroke="#4a4a4a" stroke-width="1.1" stroke-dasharray="2.6 1.2"/>
<line x1="537.0" y1="303.0" x2="554.0" y2="303.0" stroke="#4a4a4a" stroke-width="1.1" stroke-dasharray="2.6 1.2"/>
<line x1="537.0" y1="314.4" x2="554.0" y2="314.4" stroke="#8c8c8c" stroke-width="1.1" stroke-dasharray="2.6 1.2"/>
<text x="536.5" y="278.4" font-family='"Liberation Sans", sans-serif' font-size="9.0" fill="#262626" stroke="#262626" stroke-width="0.15">1.6</text>
<text x="536.5" y="289.7" font-family='"Liberation Sans", sans-serif' font-size="9.0" fill="#262626" stroke="#262626" stroke-width="0.15">1.6</text>
<text x="536.5" y="300.8" font-family='"Liberation Sans", sans-serif' font-size="9.0" fill="#262626" stroke="#262626" stroke-width="0.15">1.6</text>
<text x="536.5" y="312.2" font-family='"Liberation Sans", sans-serif' font-size="9.0" fill="#a2a2a2" stroke="#a2a2a2" stroke-width="0.15">1.75</text>
<rect x="546.2" y="128.2" width="8.5" height="103.7" fill="url(#cb)" stroke="#8a9ca4" stroke-width="0.6"/>
<line x1="546.2" y1="154" x2="548" y2="154" stroke="#7a8c94" stroke-width="0.6"/><line x1="552.9" y1="154" x2="554.7" y2="154" stroke="#7a8c94" stroke-width="0.6"/>
<line x1="546.2" y1="180" x2="548" y2="180" stroke="#7a8c94" stroke-width="0.6"/><line x1="552.9" y1="180" x2="554.7" y2="180" stroke="#7a8c94" stroke-width="0.6"/>
<line x1="546.2" y1="206" x2="548" y2="206" stroke="#7a8c94" stroke-width="0.6"/><line x1="552.9" y1="206" x2="554.7" y2="206" stroke="#7a8c94" stroke-width="0.6"/>
<text x="549.6" y="124.0" text-anchor="middle" font-family='"Liberation Sans", sans-serif' font-size="9" fill="#222">1</text>
<text x="549.6" y="240.8" text-anchor="middle" font-family='"Liberation Sans", sans-serif' font-size="9" fill="#222">0</text>
</svg></body></html>
